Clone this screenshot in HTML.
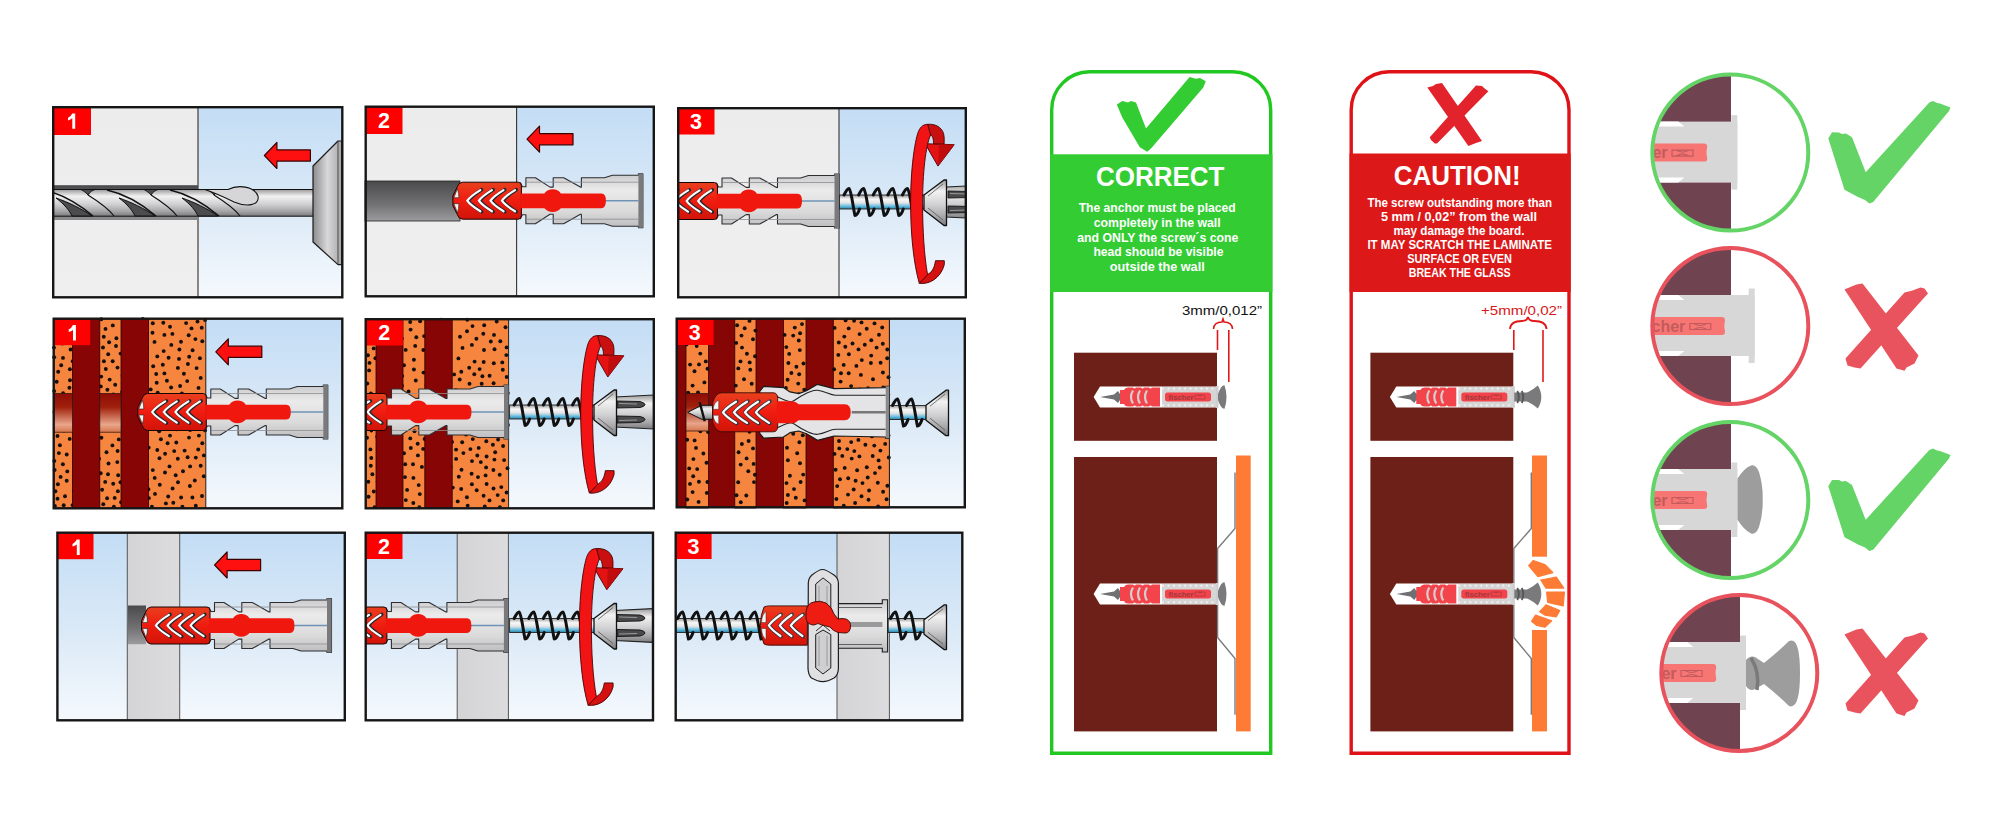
<!DOCTYPE html>
<html><head><meta charset="utf-8"><style>
html,body{margin:0;padding:0;background:#fff;width:2000px;height:826px;overflow:hidden}
svg{display:block}
</style></head><body>
<svg width="2000" height="826" viewBox="0 0 2000 826">
<rect width="2000" height="826" fill="#fff"/>

<defs>
 <linearGradient id="sky" x1="0" y1="0" x2="0" y2="1">
  <stop offset="0" stop-color="#c3ddf5"/>
  <stop offset="0.55" stop-color="#dceaf7"/>
  <stop offset="1" stop-color="#f5f9fd"/>
 </linearGradient>
 <linearGradient id="wall" x1="0" y1="0" x2="0" y2="1">
  <stop offset="0" stop-color="#ececed"/>
  <stop offset="1" stop-color="#efeff0"/>
 </linearGradient>
 <linearGradient id="board" x1="0" y1="0" x2="1" y2="0">
  <stop offset="0" stop-color="#d4d4d6"/>
  <stop offset="1" stop-color="#dcdcde"/>
 </linearGradient>
 <linearGradient id="holeg" x1="0" y1="0" x2="0" y2="1">
  <stop offset="0" stop-color="#4a4a4c"/>
  <stop offset="0.6" stop-color="#737375"/>
  <stop offset="1" stop-color="#9c9c9e"/>
 </linearGradient>
 <linearGradient id="holeb" x1="0" y1="0" x2="0" y2="1">
  <stop offset="0" stop-color="#8e0c06"/>
  <stop offset="0.35" stop-color="#a0200c"/>
  <stop offset="0.8" stop-color="#e8a58a"/>
  <stop offset="1" stop-color="#d8774e"/>
 </linearGradient>
 <linearGradient id="metal" x1="0" y1="0" x2="0" y2="1">
  <stop offset="0" stop-color="#9a9a9c"/>
  <stop offset="0.25" stop-color="#f2f2f2"/>
  <stop offset="0.55" stop-color="#d0d0d2"/>
  <stop offset="0.8" stop-color="#a8a8aa"/>
  <stop offset="1" stop-color="#7c7c7e"/>
 </linearGradient>
 <linearGradient id="shank" x1="0" y1="0" x2="0" y2="1">
  <stop offset="0" stop-color="#9c9c9e"/>
  <stop offset="0.3" stop-color="#f8f8f8"/>
  <stop offset="0.55" stop-color="#e6e6e6"/>
  <stop offset="0.7" stop-color="#9ccfe6"/>
  <stop offset="0.85" stop-color="#4fb0d8"/>
  <stop offset="1" stop-color="#3a7a98"/>
 </linearGradient>
 <linearGradient id="chuck" x1="0" y1="0" x2="1" y2="0">
  <stop offset="0" stop-color="#8c8c8e"/>
  <stop offset="0.5" stop-color="#d8d8da"/>
  <stop offset="1" stop-color="#a4a4a6"/>
 </linearGradient>
 <linearGradient id="redg" x1="0" y1="0" x2="0" y2="1">
  <stop offset="0" stop-color="#e8401e"/>
  <stop offset="0.5" stop-color="#f01c10"/>
  <stop offset="1" stop-color="#d01408"/>
 </linearGradient>
 <linearGradient id="grayb" x1="0" y1="0" x2="0" y2="1">
  <stop offset="0" stop-color="#c8c8ca"/>
  <stop offset="0.3" stop-color="#ebebec"/>
  <stop offset="0.7" stop-color="#dadadb"/>
  <stop offset="1" stop-color="#bcbcbe"/>
 </linearGradient>


 <g id="anc">
  <path d="M68,-18 L70,-14 L73.5,-14 L73.5,-23 L83,-23 L97.6,-13.6 L100.8,-13.6 L100.8,-23 L111.3,-23 L128,-13.6 L129,-13.6 L129,-23 L152,-23 L160,-25.5 L186,-25.5 L186,-27 L190.5,-27 L190.5,27 L186,27 L186,25.5 L160,25.5 L152,23 L129,23 L129,13.6 L128,13.6 L111.3,23 L100.8,23 L100.8,13.6 L97.6,13.6 L83,23 L73.5,23 L73.5,14 L70,14 L68,18 Z" fill="url(#grayb)" stroke="#2e2e30" stroke-width="1.1" stroke-linejoin="round"/>
  <path d="M74,-18.5 L186,-18.5 M74,18.5 L186,18.5" stroke="#8d8d90" stroke-width="0.8" fill="none"/>
  <rect x="186" y="-27" width="4.5" height="54" fill="#7a7a7d"/>
  <path d="M150,0 L186,0" stroke="#6f93b5" stroke-width="1.6"/>
  <path d="M10,-18.5 Q6,-18 5,-14 L0.5,-5 L0.5,5 L5,14 Q6,18 10,18.5 L66,18.5 Q69,18.2 69,15 L69,-15 Q69,-18.2 66,-18.5 Z" fill="url(#redg)" stroke="#1a0505" stroke-width="1"/>
  <path d="M1.5,-3 L5,-12 Q6.5,-8 6.5,-3 Z M1.5,3 L5,12 Q6.5,8 6.5,3 Z" fill="#f4f4f4" stroke="#222" stroke-width="0.6"/>
  <path d="M68,-7.3 L92,-7.3 Q95,-11.5 100.3,-11.5 Q105.5,-11.5 108.5,-7.3 L149,-7.3 Q153.5,-7.3 153.5,0 Q153.5,7.6 149,7.6 L108.5,7.6 Q105.5,11.3 100.3,11.3 Q95,11.3 92,7.6 L68,7.6 Z" fill="#f0180e"/>
  <path d="M29.1,-11 Q18.9,-4.5 15.9,0 Q18.9,4.5 29.1,11" fill="none" stroke="#1e2a30" stroke-width="3.6" stroke-linecap="round"/>
  <path d="M27.9,-10.6 Q17.7,-4.3 14.9,0 Q17.7,4.3 27.9,10.6" fill="none" stroke="#ffffff" stroke-width="2.2" stroke-linecap="round"/>
  <path d="M40.7,-11 Q30.5,-4.5 27.5,0 Q30.5,4.5 40.7,11" fill="none" stroke="#1e2a30" stroke-width="3.6" stroke-linecap="round"/>
  <path d="M39.5,-10.6 Q29.3,-4.3 26.5,0 Q29.3,4.3 39.5,10.6" fill="none" stroke="#ffffff" stroke-width="2.2" stroke-linecap="round"/>
  <path d="M52.3,-11 Q42.099999999999994,-4.5 39.099999999999994,0 Q42.099999999999994,4.5 52.3,11" fill="none" stroke="#1e2a30" stroke-width="3.6" stroke-linecap="round"/>
  <path d="M51.099999999999994,-10.6 Q40.9,-4.3 38.099999999999994,0 Q40.9,4.3 51.099999999999994,10.6" fill="none" stroke="#ffffff" stroke-width="2.2" stroke-linecap="round"/>
  <path d="M63.8,-11 Q53.599999999999994,-4.5 50.599999999999994,0 Q53.599999999999994,4.5 63.8,11" fill="none" stroke="#1e2a30" stroke-width="3.6" stroke-linecap="round"/>
  <path d="M62.599999999999994,-10.6 Q52.4,-4.3 49.599999999999994,0 Q52.4,4.3 62.599999999999994,10.6" fill="none" stroke="#ffffff" stroke-width="2.2" stroke-linecap="round"/>
 </g>

 <g id="screw5">
 <rect x="0" y="-7" width="92" height="14" fill="url(#shank)" stroke="#222" stroke-width="0.9"/>
<path d="M4.5,-7 C7.0,-12 8.0,-13.5 9.5,-13.5 C12.0,-11.5 14.0,8.5 15.5,13.5 C17.0,13.5 19.0,10 20.0,7" fill="none" stroke="#111" stroke-width="3" stroke-linejoin="round" stroke-linecap="round"/><path d="M19.1,-7 C21.6,-12 22.6,-13.5 24.1,-13.5 C26.6,-11.5 28.6,8.5 30.1,13.5 C31.6,13.5 33.6,10 34.6,7" fill="none" stroke="#111" stroke-width="3" stroke-linejoin="round" stroke-linecap="round"/><path d="M33.7,-7 C36.2,-12 37.2,-13.5 38.7,-13.5 C41.2,-11.5 43.2,8.5 44.7,13.5 C46.2,13.5 48.2,10 49.2,7" fill="none" stroke="#111" stroke-width="3" stroke-linejoin="round" stroke-linecap="round"/><path d="M48.3,-7 C50.8,-12 51.8,-13.5 53.3,-13.5 C55.8,-11.5 57.8,8.5 59.3,13.5 C60.8,13.5 62.8,10 63.8,7" fill="none" stroke="#111" stroke-width="3" stroke-linejoin="round" stroke-linecap="round"/><path d="M62.900000000000006,-7 C65.4,-12 66.4,-13.5 67.9,-13.5 C70.4,-11.5 72.4,8.5 73.9,13.5 C75.4,13.5 77.4,10 78.4,7" fill="none" stroke="#111" stroke-width="3" stroke-linejoin="round" stroke-linecap="round"/>
 </g>
 <g id="head">
  <path d="M0,-7 L20,-22 L22.5,-22 L22.5,23.5 L20,23.5 L0,8 Z" fill="url(#metal)" stroke="#111" stroke-width="1.3" stroke-linejoin="round"/>
  <path d="M4,-6 L19,-18 M4,6 L19,18" stroke="#555" stroke-width="0.8"/>
 </g>
 <g id="bit">
  <path d="M0,-15 L40,-17 L40,17 L0,15 Z" fill="url(#metal)" stroke="#222" stroke-width="1.1"/>
  <path d="M2,-11 L25,-10.5 Q30,-9 30,-7.5 Q30,-5.5 25,-4.5 L2,-4 Z M2,11 L25,10.5 Q30,9 30,7.5 Q30,5.5 25,4.5 L2,4 Z" fill="#4a4a4c" stroke="#111" stroke-width="0.9"/>
  <path d="M4,-8.5 L22,-8 M4,8.5 L22,8" stroke="#9a9a9c" stroke-width="1"/>
 </g>
 <g id="rot">
  <path d="M17,0.6 C24,0 31,3 33,10 C34,14 33.5,18 33.5,20.5 L23,20.5 C23,15 22,11.5 19.5,11.2 Z" fill="#c81010" stroke="#4a0000" stroke-width="0.9"/>
  <path d="M14.5,20 L43.6,21 L27.4,42.4 Z" fill="#e41212" stroke="#4a0000" stroke-width="0.9" stroke-linejoin="round"/>
  <path d="M28.5,20.6 L43.6,21 L27.4,42.4 Z" fill="#c00c0c"/>
  <path d="M8.7,159.6 C18,161 30,155 33.7,141 L33.7,137 L24.9,137 C24,143 22,149 16,151 Z" fill="#d41010" stroke="#4a0000" stroke-width="0.9"/>
  <path d="M8.7,159.6 C3,140 0,110 0,80 C0,50 3,24 7,10 C9,4 12,0.6 17,0.6 L20,11.2 C15,22 12,50 12,80 C12,105 13.5,132 17,151 Z" fill="#f21414" stroke="#4a0000" stroke-width="0.9"/>
 </g>
 <g id="larr">
  <path d="M0,0 L12.5,-13 L12.5,-5.6 L46,-5.6 L46,5.6 L12.5,5.6 L12.5,13 Z" fill="#ff1010" stroke="#3a0000" stroke-width="1.2" stroke-linejoin="round"/>
 </g>
</defs>
<g>
<rect x="53" y="107" width="145" height="190" fill="url(#wall)"/>
<rect x="198" y="107" width="144" height="190" fill="url(#sky)"/>
<line x1="198" y1="107" x2="198" y2="297" stroke="#3a2a20" stroke-width="1.1"/>
<rect x="53" y="185.2" width="145" height="34.8" fill="url(#holeg)"/>
<rect x="53" y="216" width="145" height="4" fill="#8a8a8c"/>
<clipPath id="c11"><rect x="53" y="107" width="290" height="190"/></clipPath>
<g clip-path="url(#c11)">
<path d="M40,189.5 L314,189.5 L314,216.2 L40,216.2 Z" fill="url(#metal)" stroke="#111" stroke-width="1"/>
<path d="M-7,198 C1,204 7,211 9,216 L29,216 C19,209 5,202 -7,198 Z" fill="#4c4c4e" stroke="#111" stroke-width="1"/>
<path d="M-19,190 C-1,194 17,205 30,216" fill="none" stroke="#111" stroke-width="1.3"/>
<path d="M18,189.5 C21,191 23,193 25,195 C27,192 29,190.5 32,189.5 Z" fill="#4c4c4e" stroke="#111" stroke-width="0.9"/>
<path d="M25,195 C33,200 45,208 51,216" fill="none" stroke="#111" stroke-width="1.2"/>
<path d="M56,198 C64,204 70,211 72,216 L92,216 C82,209 68,202 56,198 Z" fill="#4c4c4e" stroke="#111" stroke-width="1"/>
<path d="M44,190 C62,194 80,205 93,216" fill="none" stroke="#111" stroke-width="1.3"/>
<path d="M81,189.5 C84,191 86,193 88,195 C90,192 92,190.5 95,189.5 Z" fill="#4c4c4e" stroke="#111" stroke-width="0.9"/>
<path d="M88,195 C96,200 108,208 114,216" fill="none" stroke="#111" stroke-width="1.2"/>
<path d="M119,198 C127,204 133,211 135,216 L155,216 C145,209 131,202 119,198 Z" fill="#4c4c4e" stroke="#111" stroke-width="1"/>
<path d="M107,190 C125,194 143,205 156,216" fill="none" stroke="#111" stroke-width="1.3"/>
<path d="M144,189.5 C147,191 149,193 151,195 C153,192 155,190.5 158,189.5 Z" fill="#4c4c4e" stroke="#111" stroke-width="0.9"/>
<path d="M151,195 C159,200 171,208 177,216" fill="none" stroke="#111" stroke-width="1.2"/>
<path d="M182,198 C190,204 196,211 198,216 L218,216 C208,209 194,202 182,198 Z" fill="#4c4c4e" stroke="#111" stroke-width="1"/>
<path d="M170,190 C188,194 206,205 219,216" fill="none" stroke="#111" stroke-width="1.3"/>
<path d="M207,189.5 C210,191 212,193 214,195 C216,192 218,190.5 221,189.5 Z" fill="#4c4c4e" stroke="#111" stroke-width="0.9"/>
<path d="M214,195 C222,200 234,208 240,216" fill="none" stroke="#111" stroke-width="1.2"/>
</g>
<path d="M228,189.5 C238,184.5 254,186 258,196 C260,206 246,207 234,202 C226,198 218,194 205,189.5 Z" fill="#d6d6d8" stroke="#111" stroke-width="1.1"/>
<path d="M313,166 L338,141 L342,141 L342,264.6 L338,264.6 L313,242 Z" fill="url(#chuck)" stroke="#1a1a1a" stroke-width="1.2" stroke-linejoin="round"/>
<line x1="338" y1="141" x2="338" y2="264.6" stroke="#333" stroke-width="0.8"/>
<use href="#larr" x="264.4" y="155.5"/>
<rect x="53" y="107" width="38" height="28" fill="#ff0000"/>
<path d="M72.3,113.4 L75.2,113.4 L75.2,128.8 L72.3,128.8 L72.3,118.2 Q70.5,119.8 68,120.4 L68,117.7 Q71,116.3 72.3,113.4 Z" fill="#fff"/>
<rect x="53.2" y="107.2" width="289.1" height="190.1" fill="none" stroke="#161616" stroke-width="2.4"/>
</g>
<rect x="365" y="106.5" width="151.6" height="190" fill="url(#wall)"/>
<rect x="516.6" y="106.5" width="137" height="190" fill="url(#sky)"/>
<line x1="516.6" y1="106.5" x2="516.6" y2="296.5" stroke="#333" stroke-width="1.1"/>
<rect x="365" y="181" width="95" height="40" fill="url(#holeg)" stroke="#222" stroke-width="0.8"/>
<use href="#anc" transform="translate(452.4,200.7)"/>
<use href="#larr" x="527" y="139.2"/>
<rect x="365.5" y="107" width="37" height="27" fill="#ff0000"/>
<text x="384.0" y="128.4" text-anchor="middle" font-family='"Liberation Sans", sans-serif' font-weight="bold" font-size="21.5" fill="#fff">2</text>
<rect x="365.7" y="106.7" width="288.1" height="189.6" fill="none" stroke="#161616" stroke-width="2.4"/>
<clipPath id="c13"><rect x="678" y="108" width="288" height="189"/></clipPath>
<rect x="678" y="108" width="161" height="189" fill="url(#wall)"/>
<rect x="839" y="108" width="127" height="189" fill="url(#sky)"/>
<line x1="839" y1="108" x2="839" y2="297" stroke="#333" stroke-width="1.1"/>
<g clip-path="url(#c13)">
<use href="#anc" transform="translate(648.5,201)"/>
<use href="#screw5" transform="translate(839.5,202)"/>
<use href="#bit" transform="translate(946,202)"/>
<use href="#head" transform="translate(924,202)"/>
</g>
<use href="#rot" transform="translate(910.6,123.7)"/>
<rect x="677.5" y="108.5" width="37" height="26" fill="#ff0000"/>
<text x="696.0" y="129.4" text-anchor="middle" font-family='"Liberation Sans", sans-serif' font-weight="bold" font-size="21.5" fill="#fff">3</text>
<rect x="678.2" y="108.2" width="287.6" height="189.1" fill="none" stroke="#161616" stroke-width="2.4"/>
<rect x="53.5" y="318.5" width="289" height="190" fill="url(#sky)"/>
<rect x="53.5" y="318.5" width="152.3" height="190" fill="#f6853f"/>
<g fill="#151010"><circle cx="103.0" cy="347.5" r="1.95"/><circle cx="152.5" cy="332.7" r="1.95"/><circle cx="135.1" cy="388.1" r="1.95"/><circle cx="62.8" cy="414.9" r="1.95"/><circle cx="59.7" cy="401.0" r="1.95"/><circle cx="64.6" cy="336.1" r="1.95"/><circle cx="118.2" cy="475.3" r="1.95"/><circle cx="72.7" cy="361.2" r="1.95"/><circle cx="148.9" cy="498.1" r="1.95"/><circle cx="141.3" cy="394.0" r="1.95"/><circle cx="201.7" cy="327.8" r="1.95"/><circle cx="183.9" cy="373.7" r="1.95"/><circle cx="75.8" cy="341.3" r="1.95"/><circle cx="100.7" cy="473.2" r="1.95"/><circle cx="81.3" cy="428.9" r="1.95"/><circle cx="150.7" cy="389.4" r="1.95"/><circle cx="136.9" cy="330.9" r="1.95"/><circle cx="63.0" cy="357.9" r="1.95"/><circle cx="156.9" cy="399.8" r="1.95"/><circle cx="101.5" cy="429.7" r="1.95"/><circle cx="122.6" cy="375.7" r="1.95"/><circle cx="174.2" cy="451.1" r="1.95"/><circle cx="90.9" cy="427.6" r="1.95"/><circle cx="133.5" cy="484.4" r="1.95"/><circle cx="164.4" cy="373.4" r="1.95"/><circle cx="202.3" cy="341.3" r="1.95"/><circle cx="117.3" cy="462.1" r="1.95"/><circle cx="77.0" cy="411.4" r="1.95"/><circle cx="59.9" cy="445.3" r="1.95"/><circle cx="169.7" cy="427.3" r="1.95"/><circle cx="159.2" cy="431.3" r="1.95"/><circle cx="141.7" cy="405.2" r="1.95"/><circle cx="181.1" cy="497.5" r="1.95"/><circle cx="125.7" cy="444.5" r="1.95"/><circle cx="151.9" cy="506.7" r="1.95"/><circle cx="112.4" cy="445.4" r="1.95"/><circle cx="62.9" cy="464.2" r="1.95"/><circle cx="113.2" cy="483.7" r="1.95"/><circle cx="178.0" cy="482.3" r="1.95"/><circle cx="96.1" cy="397.5" r="1.95"/><circle cx="80.7" cy="362.8" r="1.95"/><circle cx="89.3" cy="410.7" r="1.95"/><circle cx="143.1" cy="368.7" r="1.95"/><circle cx="109.9" cy="426.0" r="1.95"/><circle cx="198.2" cy="449.5" r="1.95"/><circle cx="132.0" cy="435.7" r="1.95"/><circle cx="190.1" cy="466.4" r="1.95"/><circle cx="113.4" cy="394.4" r="1.95"/><circle cx="69.7" cy="438.9" r="1.95"/><circle cx="85.6" cy="349.7" r="1.95"/><circle cx="105.5" cy="328.9" r="1.95"/><circle cx="54.0" cy="347.6" r="1.95"/><circle cx="69.4" cy="387.7" r="1.95"/><circle cx="57.9" cy="484.2" r="1.95"/><circle cx="146.9" cy="347.1" r="1.95"/><circle cx="92.2" cy="384.7" r="1.95"/><circle cx="109.1" cy="342.2" r="1.95"/><circle cx="182.4" cy="506.7" r="1.95"/><circle cx="124.5" cy="410.4" r="1.95"/><circle cx="105.8" cy="369.0" r="1.95"/><circle cx="179.4" cy="349.5" r="1.95"/><circle cx="57.5" cy="498.7" r="1.95"/><circle cx="133.9" cy="346.7" r="1.95"/><circle cx="133.9" cy="503.9" r="1.95"/><circle cx="184.6" cy="450.6" r="1.95"/><circle cx="79.3" cy="464.9" r="1.95"/><circle cx="134.6" cy="466.2" r="1.95"/><circle cx="103.9" cy="361.2" r="1.95"/><circle cx="183.0" cy="471.3" r="1.95"/><circle cx="177.8" cy="458.8" r="1.95"/><circle cx="58.2" cy="371.8" r="1.95"/><circle cx="93.2" cy="449.9" r="1.95"/><circle cx="198.7" cy="403.5" r="1.95"/><circle cx="195.8" cy="505.7" r="1.95"/><circle cx="198.5" cy="387.9" r="1.95"/><circle cx="148.4" cy="489.2" r="1.95"/><circle cx="181.2" cy="409.6" r="1.95"/><circle cx="152.8" cy="470.1" r="1.95"/><circle cx="167.5" cy="409.3" r="1.95"/><circle cx="114.7" cy="497.9" r="1.95"/><circle cx="163.7" cy="351.1" r="1.95"/><circle cx="76.1" cy="475.2" r="1.95"/><circle cx="202.3" cy="443.2" r="1.95"/><circle cx="73.8" cy="321.7" r="1.95"/><circle cx="133.7" cy="495.5" r="1.95"/><circle cx="179.0" cy="358.9" r="1.95"/><circle cx="92.1" cy="374.4" r="1.95"/><circle cx="73.8" cy="491.0" r="1.95"/><circle cx="107.5" cy="405.6" r="1.95"/><circle cx="129.9" cy="419.5" r="1.95"/><circle cx="133.2" cy="322.5" r="1.95"/><circle cx="120.6" cy="353.6" r="1.95"/><circle cx="54.6" cy="470.0" r="1.95"/><circle cx="103.3" cy="417.0" r="1.95"/><circle cx="70.1" cy="424.9" r="1.95"/><circle cx="146.7" cy="414.5" r="1.95"/><circle cx="131.5" cy="449.9" r="1.95"/><circle cx="122.4" cy="419.8" r="1.95"/><circle cx="126.3" cy="496.9" r="1.95"/><circle cx="159.8" cy="484.7" r="1.95"/><circle cx="196.6" cy="368.1" r="1.95"/><circle cx="72.4" cy="402.6" r="1.95"/><circle cx="172.6" cy="488.5" r="1.95"/><circle cx="77.4" cy="454.3" r="1.95"/><circle cx="87.2" cy="499.0" r="1.95"/><circle cx="114.3" cy="411.1" r="1.95"/><circle cx="203.8" cy="476.3" r="1.95"/><circle cx="83.6" cy="379.2" r="1.95"/><circle cx="163.3" cy="322.7" r="1.95"/><circle cx="56.7" cy="381.7" r="1.95"/><circle cx="63.7" cy="505.2" r="1.95"/><circle cx="173.3" cy="502.7" r="1.95"/><circle cx="69.9" cy="369.2" r="1.95"/><circle cx="94.9" cy="343.5" r="1.95"/><circle cx="117.9" cy="491.3" r="1.95"/><circle cx="177.9" cy="367.9" r="1.95"/><circle cx="140.3" cy="451.4" r="1.95"/><circle cx="65.0" cy="496.3" r="1.95"/><circle cx="66.7" cy="480.8" r="1.95"/><circle cx="122.7" cy="383.1" r="1.95"/><circle cx="133.7" cy="364.1" r="1.95"/><circle cx="70.6" cy="349.5" r="1.95"/><circle cx="101.2" cy="376.6" r="1.95"/><circle cx="129.7" cy="352.6" r="1.95"/><circle cx="91.9" cy="321.9" r="1.95"/><circle cx="195.4" cy="339.1" r="1.95"/><circle cx="177.9" cy="400.7" r="1.95"/><circle cx="128.9" cy="476.7" r="1.95"/><circle cx="160.9" cy="439.2" r="1.95"/><circle cx="115.2" cy="384.7" r="1.95"/><circle cx="62.2" cy="343.5" r="1.95"/><circle cx="96.7" cy="364.8" r="1.95"/><circle cx="98.3" cy="405.8" r="1.95"/><circle cx="201.2" cy="422.4" r="1.95"/><circle cx="100.8" cy="386.4" r="1.95"/><circle cx="54.2" cy="391.1" r="1.95"/><circle cx="60.3" cy="323.3" r="1.95"/><circle cx="167.6" cy="443.3" r="1.95"/><circle cx="60.6" cy="476.9" r="1.95"/><circle cx="189.0" cy="437.6" r="1.95"/><circle cx="165.0" cy="472.5" r="1.95"/><circle cx="175.7" cy="475.2" r="1.95"/><circle cx="157.3" cy="450.0" r="1.95"/><circle cx="148.7" cy="447.6" r="1.95"/><circle cx="165.9" cy="503.4" r="1.95"/><circle cx="170.0" cy="435.6" r="1.95"/><circle cx="156.2" cy="374.0" r="1.95"/><circle cx="132.2" cy="406.8" r="1.95"/><circle cx="124.6" cy="341.4" r="1.95"/><circle cx="189.2" cy="356.7" r="1.95"/><circle cx="202.0" cy="496.0" r="1.95"/><circle cx="89.0" cy="488.7" r="1.95"/><circle cx="54.5" cy="411.9" r="1.95"/><circle cx="54.3" cy="460.9" r="1.95"/><circle cx="181.0" cy="341.7" r="1.95"/><circle cx="205.1" cy="430.4" r="1.95"/><circle cx="95.6" cy="328.1" r="1.95"/><circle cx="97.2" cy="495.8" r="1.95"/><circle cx="99.1" cy="458.7" r="1.95"/><circle cx="83.1" cy="336.1" r="1.95"/><circle cx="167.4" cy="397.0" r="1.95"/><circle cx="114.5" cy="403.3" r="1.95"/><circle cx="186.1" cy="323.1" r="1.95"/><circle cx="58.9" cy="453.1" r="1.95"/><circle cx="189.5" cy="408.4" r="1.95"/><circle cx="142.8" cy="319.0" r="1.95"/><circle cx="71.0" cy="332.3" r="1.95"/><circle cx="112.7" cy="361.3" r="1.95"/><circle cx="117.5" cy="367.6" r="1.95"/><circle cx="155.0" cy="493.9" r="1.95"/><circle cx="105.1" cy="398.5" r="1.95"/><circle cx="157.3" cy="356.4" r="1.95"/><circle cx="200.7" cy="377.9" r="1.95"/><circle cx="87.5" cy="462.7" r="1.95"/><circle cx="87.8" cy="397.8" r="1.95"/><circle cx="76.1" cy="393.4" r="1.95"/><circle cx="63.1" cy="393.3" r="1.95"/><circle cx="189.9" cy="486.0" r="1.95"/><circle cx="199.9" cy="358.2" r="1.95"/><circle cx="108.0" cy="474.3" r="1.95"/><circle cx="83.2" cy="387.8" r="1.95"/><circle cx="170.0" cy="326.7" r="1.95"/><circle cx="59.3" cy="330.8" r="1.95"/><circle cx="198.9" cy="435.6" r="1.95"/><circle cx="145.9" cy="381.0" r="1.95"/><circle cx="172.4" cy="333.9" r="1.95"/><circle cx="59.1" cy="423.4" r="1.95"/><circle cx="103.3" cy="504.3" r="1.95"/><circle cx="154.5" cy="341.9" r="1.95"/><circle cx="113.9" cy="506.6" r="1.95"/><circle cx="176.3" cy="442.5" r="1.95"/><circle cx="144.2" cy="436.2" r="1.95"/><circle cx="127.0" cy="329.1" r="1.95"/><circle cx="144.7" cy="423.0" r="1.95"/><circle cx="117.6" cy="429.1" r="1.95"/><circle cx="121.6" cy="401.8" r="1.95"/><circle cx="57.5" cy="436.0" r="1.95"/><circle cx="169.5" cy="466.4" r="1.95"/><circle cx="192.6" cy="350.2" r="1.95"/><circle cx="85.5" cy="368.7" r="1.95"/><circle cx="130.6" cy="379.3" r="1.95"/><circle cx="186.1" cy="423.9" r="1.95"/><circle cx="141.8" cy="485.8" r="1.95"/><circle cx="108.5" cy="463.5" r="1.95"/><circle cx="101.3" cy="319.3" r="1.95"/><circle cx="152.8" cy="323.2" r="1.95"/><circle cx="143.1" cy="357.6" r="1.95"/><circle cx="195.8" cy="457.6" r="1.95"/><circle cx="173.3" cy="417.9" r="1.95"/><circle cx="94.1" cy="440.3" r="1.95"/><circle cx="166.9" cy="380.8" r="1.95"/><circle cx="187.2" cy="381.1" r="1.95"/><circle cx="86.1" cy="436.7" r="1.95"/><circle cx="159.5" cy="458.3" r="1.95"/><circle cx="64.0" cy="430.6" r="1.95"/><circle cx="192.4" cy="497.5" r="1.95"/><circle cx="168.6" cy="357.7" r="1.95"/><circle cx="109.7" cy="379.6" r="1.95"/><circle cx="199.9" cy="414.2" r="1.95"/><circle cx="106.5" cy="452.2" r="1.95"/><circle cx="54.2" cy="357.2" r="1.95"/><circle cx="159.8" cy="413.2" r="1.95"/><circle cx="188.7" cy="335.3" r="1.95"/><circle cx="79.7" cy="401.9" r="1.95"/><circle cx="187.9" cy="364.0" r="1.95"/><circle cx="112.8" cy="325.4" r="1.95"/><circle cx="149.7" cy="406.6" r="1.95"/><circle cx="75.5" cy="433.1" r="1.95"/><circle cx="191.4" cy="400.3" r="1.95"/><circle cx="140.8" cy="460.6" r="1.95"/><circle cx="101.4" cy="437.7" r="1.95"/><circle cx="81.7" cy="442.7" r="1.95"/><circle cx="72.5" cy="505.1" r="1.95"/><circle cx="117.6" cy="451.0" r="1.95"/><circle cx="87.1" cy="470.5" r="1.95"/><circle cx="180.1" cy="386.0" r="1.95"/><circle cx="118.8" cy="439.4" r="1.95"/><circle cx="153.2" cy="366.3" r="1.95"/><circle cx="146.0" cy="466.7" r="1.95"/><circle cx="83.9" cy="449.9" r="1.95"/><circle cx="154.7" cy="477.9" r="1.95"/><circle cx="105.2" cy="481.9" r="1.95"/><circle cx="81.4" cy="326.0" r="1.95"/><circle cx="116.4" cy="338.3" r="1.95"/><circle cx="162.8" cy="364.8" r="1.95"/><circle cx="164.4" cy="334.9" r="1.95"/><circle cx="149.3" cy="398.0" r="1.95"/><circle cx="67.3" cy="471.4" r="1.95"/><circle cx="126.1" cy="430.4" r="1.95"/><circle cx="168.2" cy="496.5" r="1.95"/><circle cx="70.0" cy="380.2" r="1.95"/><circle cx="162.0" cy="423.6" r="1.95"/><circle cx="75.9" cy="483.6" r="1.95"/><circle cx="77.6" cy="370.2" r="1.95"/><circle cx="102.1" cy="489.7" r="1.95"/><circle cx="93.0" cy="357.1" r="1.95"/><circle cx="176.8" cy="429.2" r="1.95"/><circle cx="181.1" cy="418.3" r="1.95"/><circle cx="200.7" cy="465.8" r="1.95"/><circle cx="138.2" cy="411.9" r="1.95"/><circle cx="147.2" cy="479.6" r="1.95"/><circle cx="157.7" cy="392.6" r="1.95"/><circle cx="107.1" cy="498.2" r="1.95"/><circle cx="122.1" cy="391.9" r="1.95"/><circle cx="194.8" cy="480.5" r="1.95"/><circle cx="127.3" cy="468.8" r="1.95"/><circle cx="108.2" cy="354.3" r="1.95"/><circle cx="139.0" cy="340.7" r="1.95"/><circle cx="190.1" cy="430.0" r="1.95"/><circle cx="94.9" cy="464.9" r="1.95"/><circle cx="165.1" cy="453.7" r="1.95"/><circle cx="61.2" cy="365.2" r="1.95"/><circle cx="96.5" cy="336.0" r="1.95"/><circle cx="66.7" cy="454.5" r="1.95"/><circle cx="121.1" cy="502.3" r="1.95"/><circle cx="131.9" cy="398.6" r="1.95"/><circle cx="71.1" cy="416.0" r="1.95"/><circle cx="120.5" cy="482.2" r="1.95"/><circle cx="203.9" cy="455.4" r="1.95"/><circle cx="171.3" cy="344.9" r="1.95"/><circle cx="197.5" cy="321.6" r="1.95"/><circle cx="181.9" cy="393.4" r="1.95"/><circle cx="143.1" cy="327.3" r="1.95"/><circle cx="140.0" cy="376.2" r="1.95"/><circle cx="141.8" cy="505.6" r="1.95"/><circle cx="82.5" cy="420.5" r="1.95"/><circle cx="156.7" cy="382.8" r="1.95"/><circle cx="124.1" cy="321.6" r="1.95"/><circle cx="146.9" cy="455.9" r="1.95"/><circle cx="103.8" cy="336.7" r="1.95"/><circle cx="138.0" cy="443.2" r="1.95"/><circle cx="171.1" cy="387.5" r="1.95"/><circle cx="55.4" cy="491.3" r="1.95"/><circle cx="187.6" cy="457.2" r="1.95"/><circle cx="116.0" cy="346.0" r="1.95"/><circle cx="205.1" cy="320.0" r="1.95"/><circle cx="191.5" cy="328.4" r="1.95"/><circle cx="125.6" cy="455.4" r="1.95"/><circle cx="194.3" cy="418.9" r="1.95"/><circle cx="125.7" cy="487.3" r="1.95"/><circle cx="54.9" cy="505.9" r="1.95"/><circle cx="107.4" cy="389.8" r="1.95"/><circle cx="79.7" cy="497.0" r="1.95"/></g>
<rect x="72.4" y="318.5" width="27.39999999999999" height="190" fill="#880505" stroke="#2a0000" stroke-width="0.8"/>
<rect x="121" y="318.5" width="27.5" height="190" fill="#880505" stroke="#2a0000" stroke-width="0.8"/>
<rect x="53.5" y="393.5" width="18.900000000000006" height="38.7" fill="url(#holeb)" stroke="#3a1a10" stroke-width="0.8"/>
<rect x="99.8" y="393.5" width="21.200000000000003" height="38.7" fill="url(#holeb)" stroke="#3a1a10" stroke-width="0.8"/>
<line x1="205.8" y1="318.5" x2="205.8" y2="508.5" stroke="#222" stroke-width="1"/>
<use href="#anc" transform="translate(137.3,412)"/>
<use href="#larr" x="215.8" y="351.8"/>
<rect x="53.7" y="318.7" width="36.5" height="26.5" fill="#ff0000"/>
<path d="M73.0,325.09999999999997 L75.9,325.09999999999997 L75.9,340.5 L73.0,340.5 L73.0,329.9 Q71.2,331.5 68.7,332.09999999999997 L68.7,329.4 Q71.7,328.0 73.0,325.09999999999997 Z" fill="#fff"/>
<rect x="53.7" y="318.7" width="288.6" height="189.6" fill="none" stroke="#161616" stroke-width="2.4"/>
<clipPath id="c22"><rect x="366" y="319" width="288" height="189"/></clipPath>
<rect x="366" y="319" width="288" height="189" fill="url(#sky)"/>
<rect x="366" y="319" width="142.4" height="189" fill="#f6853f"/>
<g fill="#151010"><circle cx="413.4" cy="477.9" r="1.95"/><circle cx="490.0" cy="409.8" r="1.95"/><circle cx="387.6" cy="337.2" r="1.95"/><circle cx="490.8" cy="341.5" r="1.95"/><circle cx="436.7" cy="420.3" r="1.95"/><circle cx="383.1" cy="407.4" r="1.95"/><circle cx="389.7" cy="420.2" r="1.95"/><circle cx="438.2" cy="388.5" r="1.95"/><circle cx="394.5" cy="395.4" r="1.95"/><circle cx="395.3" cy="343.4" r="1.95"/><circle cx="400.4" cy="483.3" r="1.95"/><circle cx="437.5" cy="486.9" r="1.95"/><circle cx="368.6" cy="496.8" r="1.95"/><circle cx="435.6" cy="468.2" r="1.95"/><circle cx="447.2" cy="449.0" r="1.95"/><circle cx="398.9" cy="460.5" r="1.95"/><circle cx="388.2" cy="369.2" r="1.95"/><circle cx="370.9" cy="393.4" r="1.95"/><circle cx="439.8" cy="374.4" r="1.95"/><circle cx="448.3" cy="363.5" r="1.95"/><circle cx="450.7" cy="466.9" r="1.95"/><circle cx="467.0" cy="331.2" r="1.95"/><circle cx="401.2" cy="432.1" r="1.95"/><circle cx="505.5" cy="327.2" r="1.95"/><circle cx="481.7" cy="383.8" r="1.95"/><circle cx="481.1" cy="406.3" r="1.95"/><circle cx="496.7" cy="321.5" r="1.95"/><circle cx="499.5" cy="397.0" r="1.95"/><circle cx="424.1" cy="336.1" r="1.95"/><circle cx="462.5" cy="347.9" r="1.95"/><circle cx="415.2" cy="345.9" r="1.95"/><circle cx="394.5" cy="360.8" r="1.95"/><circle cx="413.3" cy="503.0" r="1.95"/><circle cx="507.5" cy="468.3" r="1.95"/><circle cx="434.3" cy="413.0" r="1.95"/><circle cx="476.7" cy="490.2" r="1.95"/><circle cx="472.8" cy="439.1" r="1.95"/><circle cx="394.6" cy="437.0" r="1.95"/><circle cx="486.1" cy="467.4" r="1.95"/><circle cx="379.6" cy="454.4" r="1.95"/><circle cx="503.1" cy="446.0" r="1.95"/><circle cx="471.9" cy="344.9" r="1.95"/><circle cx="483.6" cy="495.7" r="1.95"/><circle cx="494.4" cy="459.6" r="1.95"/><circle cx="450.0" cy="401.3" r="1.95"/><circle cx="489.6" cy="375.7" r="1.95"/><circle cx="502.4" cy="419.5" r="1.95"/><circle cx="500.3" cy="341.3" r="1.95"/><circle cx="431.2" cy="364.0" r="1.95"/><circle cx="463.4" cy="453.1" r="1.95"/><circle cx="421.9" cy="466.9" r="1.95"/><circle cx="478.7" cy="447.9" r="1.95"/><circle cx="499.7" cy="474.7" r="1.95"/><circle cx="458.8" cy="476.7" r="1.95"/><circle cx="414.5" cy="431.3" r="1.95"/><circle cx="367.1" cy="411.4" r="1.95"/><circle cx="368.8" cy="340.3" r="1.95"/><circle cx="481.4" cy="398.2" r="1.95"/><circle cx="413.9" cy="359.7" r="1.95"/><circle cx="454.1" cy="374.4" r="1.95"/><circle cx="378.9" cy="370.4" r="1.95"/><circle cx="465.6" cy="402.6" r="1.95"/><circle cx="383.6" cy="447.9" r="1.95"/><circle cx="372.4" cy="474.2" r="1.95"/><circle cx="501.9" cy="387.6" r="1.95"/><circle cx="452.8" cy="487.6" r="1.95"/><circle cx="422.3" cy="413.4" r="1.95"/><circle cx="506.3" cy="355.1" r="1.95"/><circle cx="484.0" cy="350.0" r="1.95"/><circle cx="441.0" cy="319.6" r="1.95"/><circle cx="391.3" cy="497.2" r="1.95"/><circle cx="402.0" cy="385.7" r="1.95"/><circle cx="380.8" cy="423.4" r="1.95"/><circle cx="419.8" cy="494.1" r="1.95"/><circle cx="492.9" cy="444.8" r="1.95"/><circle cx="377.2" cy="436.8" r="1.95"/><circle cx="429.3" cy="499.6" r="1.95"/><circle cx="417.7" cy="443.8" r="1.95"/><circle cx="455.9" cy="390.2" r="1.95"/><circle cx="463.2" cy="424.3" r="1.95"/><circle cx="429.8" cy="460.7" r="1.95"/><circle cx="472.5" cy="326.1" r="1.95"/><circle cx="501.3" cy="487.1" r="1.95"/><circle cx="386.9" cy="430.0" r="1.95"/><circle cx="448.1" cy="328.3" r="1.95"/><circle cx="474.3" cy="374.2" r="1.95"/><circle cx="405.7" cy="349.9" r="1.95"/><circle cx="447.8" cy="474.8" r="1.95"/><circle cx="410.6" cy="329.6" r="1.95"/><circle cx="408.6" cy="391.5" r="1.95"/><circle cx="503.2" cy="500.4" r="1.95"/><circle cx="393.0" cy="377.7" r="1.95"/><circle cx="411.9" cy="401.9" r="1.95"/><circle cx="422.2" cy="392.0" r="1.95"/><circle cx="502.8" cy="369.7" r="1.95"/><circle cx="395.3" cy="490.3" r="1.95"/><circle cx="430.2" cy="476.9" r="1.95"/><circle cx="473.6" cy="407.9" r="1.95"/><circle cx="483.4" cy="426.0" r="1.95"/><circle cx="404.0" cy="365.3" r="1.95"/><circle cx="382.2" cy="377.2" r="1.95"/><circle cx="457.7" cy="501.4" r="1.95"/><circle cx="456.1" cy="449.6" r="1.95"/><circle cx="392.8" cy="483.4" r="1.95"/><circle cx="461.2" cy="489.0" r="1.95"/><circle cx="437.5" cy="479.7" r="1.95"/><circle cx="423.6" cy="427.4" r="1.95"/><circle cx="478.0" cy="477.1" r="1.95"/><circle cx="493.5" cy="488.5" r="1.95"/><circle cx="471.6" cy="473.8" r="1.95"/><circle cx="466.0" cy="434.6" r="1.95"/><circle cx="367.0" cy="437.8" r="1.95"/><circle cx="374.9" cy="403.3" r="1.95"/><circle cx="382.1" cy="361.7" r="1.95"/><circle cx="397.3" cy="468.7" r="1.95"/><circle cx="370.8" cy="465.8" r="1.95"/><circle cx="438.9" cy="430.2" r="1.95"/><circle cx="434.1" cy="344.6" r="1.95"/><circle cx="430.7" cy="447.8" r="1.95"/><circle cx="423.5" cy="372.6" r="1.95"/><circle cx="439.5" cy="402.0" r="1.95"/><circle cx="394.5" cy="451.8" r="1.95"/><circle cx="504.1" cy="460.1" r="1.95"/><circle cx="375.4" cy="358.2" r="1.95"/><circle cx="368.3" cy="481.8" r="1.95"/><circle cx="506.7" cy="377.0" r="1.95"/><circle cx="388.3" cy="465.7" r="1.95"/><circle cx="433.1" cy="505.7" r="1.95"/><circle cx="446.2" cy="415.0" r="1.95"/><circle cx="466.9" cy="497.2" r="1.95"/><circle cx="505.1" cy="401.6" r="1.95"/><circle cx="470.1" cy="391.7" r="1.95"/><circle cx="385.4" cy="321.9" r="1.95"/><circle cx="420.1" cy="321.2" r="1.95"/><circle cx="432.1" cy="327.6" r="1.95"/><circle cx="492.2" cy="419.9" r="1.95"/><circle cx="435.0" cy="439.7" r="1.95"/><circle cx="494.6" cy="391.4" r="1.95"/><circle cx="431.0" cy="429.6" r="1.95"/><circle cx="433.1" cy="394.7" r="1.95"/><circle cx="400.4" cy="441.6" r="1.95"/><circle cx="386.5" cy="490.4" r="1.95"/><circle cx="400.2" cy="505.0" r="1.95"/><circle cx="456.1" cy="458.9" r="1.95"/><circle cx="371.9" cy="328.7" r="1.95"/><circle cx="498.1" cy="439.6" r="1.95"/><circle cx="458.4" cy="358.4" r="1.95"/><circle cx="416.3" cy="337.2" r="1.95"/><circle cx="377.1" cy="340.9" r="1.95"/><circle cx="427.4" cy="484.6" r="1.95"/><circle cx="402.2" cy="376.0" r="1.95"/><circle cx="415.8" cy="380.5" r="1.95"/><circle cx="484.8" cy="506.4" r="1.95"/><circle cx="401.8" cy="397.0" r="1.95"/><circle cx="369.5" cy="362.9" r="1.95"/><circle cx="413.0" cy="464.3" r="1.95"/><circle cx="478.9" cy="419.5" r="1.95"/><circle cx="381.3" cy="474.7" r="1.95"/><circle cx="418.4" cy="420.5" r="1.95"/><circle cx="442.6" cy="495.8" r="1.95"/><circle cx="407.1" cy="489.9" r="1.95"/><circle cx="467.7" cy="505.6" r="1.95"/><circle cx="472.0" cy="461.1" r="1.95"/><circle cx="370.4" cy="449.4" r="1.95"/><circle cx="396.1" cy="368.3" r="1.95"/><circle cx="376.0" cy="322.2" r="1.95"/><circle cx="405.2" cy="464.2" r="1.95"/><circle cx="484.2" cy="325.3" r="1.95"/><circle cx="483.7" cy="362.0" r="1.95"/><circle cx="461.3" cy="371.7" r="1.95"/><circle cx="367.9" cy="355.2" r="1.95"/><circle cx="494.5" cy="349.2" r="1.95"/><circle cx="398.1" cy="331.7" r="1.95"/><circle cx="384.9" cy="500.6" r="1.95"/><circle cx="417.9" cy="455.4" r="1.95"/><circle cx="440.5" cy="340.5" r="1.95"/><circle cx="474.6" cy="361.6" r="1.95"/><circle cx="457.2" cy="408.2" r="1.95"/><circle cx="434.3" cy="352.2" r="1.95"/><circle cx="417.6" cy="407.7" r="1.95"/><circle cx="471.7" cy="425.3" r="1.95"/><circle cx="489.5" cy="500.4" r="1.95"/><circle cx="497.2" cy="406.2" r="1.95"/><circle cx="430.6" cy="379.3" r="1.95"/><circle cx="505.7" cy="410.0" r="1.95"/><circle cx="458.8" cy="416.3" r="1.95"/><circle cx="399.6" cy="413.3" r="1.95"/><circle cx="452.0" cy="441.9" r="1.95"/><circle cx="487.7" cy="388.6" r="1.95"/><circle cx="494.0" cy="334.9" r="1.95"/><circle cx="389.4" cy="475.2" r="1.95"/><circle cx="403.0" cy="404.9" r="1.95"/><circle cx="387.6" cy="345.3" r="1.95"/><circle cx="373.8" cy="491.5" r="1.95"/><circle cx="447.1" cy="353.6" r="1.95"/><circle cx="461.5" cy="469.8" r="1.95"/><circle cx="493.8" cy="363.2" r="1.95"/><circle cx="499.8" cy="428.0" r="1.95"/><circle cx="486.6" cy="484.0" r="1.95"/><circle cx="368.6" cy="420.1" r="1.95"/><circle cx="404.0" cy="453.2" r="1.95"/><circle cx="469.5" cy="383.7" r="1.95"/><circle cx="373.7" cy="348.4" r="1.95"/><circle cx="448.9" cy="339.8" r="1.95"/><circle cx="441.9" cy="455.7" r="1.95"/><circle cx="379.1" cy="328.7" r="1.95"/><circle cx="383.4" cy="414.8" r="1.95"/><circle cx="497.7" cy="495.1" r="1.95"/><circle cx="378.6" cy="393.5" r="1.95"/><circle cx="506.6" cy="347.4" r="1.95"/><circle cx="424.6" cy="439.0" r="1.95"/><circle cx="442.7" cy="382.7" r="1.95"/><circle cx="462.2" cy="442.2" r="1.95"/><circle cx="401.8" cy="338.4" r="1.95"/><circle cx="410.3" cy="438.4" r="1.95"/><circle cx="371.4" cy="430.6" r="1.95"/><circle cx="507.9" cy="425.0" r="1.95"/><circle cx="395.8" cy="323.9" r="1.95"/><circle cx="445.7" cy="346.5" r="1.95"/><circle cx="432.7" cy="336.9" r="1.95"/><circle cx="367.3" cy="383.5" r="1.95"/><circle cx="405.0" cy="477.1" r="1.95"/><circle cx="401.2" cy="356.9" r="1.95"/><circle cx="411.2" cy="414.4" r="1.95"/><circle cx="392.5" cy="409.7" r="1.95"/><circle cx="426.6" cy="385.7" r="1.95"/><circle cx="486.6" cy="456.5" r="1.95"/><circle cx="387.0" cy="388.3" r="1.95"/><circle cx="444.2" cy="395.2" r="1.95"/><circle cx="493.4" cy="470.0" r="1.95"/><circle cx="427.9" cy="355.8" r="1.95"/><circle cx="491.1" cy="432.5" r="1.95"/><circle cx="476.4" cy="338.8" r="1.95"/><circle cx="489.7" cy="402.6" r="1.95"/><circle cx="469.2" cy="367.7" r="1.95"/><circle cx="499.9" cy="507.1" r="1.95"/><circle cx="480.8" cy="462.1" r="1.95"/><circle cx="455.5" cy="425.3" r="1.95"/><circle cx="467.3" cy="319.8" r="1.95"/><circle cx="507.0" cy="436.7" r="1.95"/><circle cx="447.7" cy="424.9" r="1.95"/><circle cx="495.2" cy="452.3" r="1.95"/><circle cx="486.3" cy="441.3" r="1.95"/><circle cx="374.8" cy="414.8" r="1.95"/><circle cx="460.0" cy="336.7" r="1.95"/><circle cx="413.9" cy="369.5" r="1.95"/><circle cx="423.2" cy="448.9" r="1.95"/><circle cx="506.6" cy="492.5" r="1.95"/><circle cx="448.2" cy="503.0" r="1.95"/><circle cx="428.4" cy="320.2" r="1.95"/><circle cx="423.3" cy="350.0" r="1.95"/><circle cx="493.6" cy="383.2" r="1.95"/><circle cx="471.9" cy="484.2" r="1.95"/><circle cx="401.2" cy="424.3" r="1.95"/><circle cx="418.7" cy="485.1" r="1.95"/><circle cx="429.3" cy="491.6" r="1.95"/><circle cx="377.7" cy="481.8" r="1.95"/><circle cx="502.3" cy="362.4" r="1.95"/><circle cx="429.5" cy="406.3" r="1.95"/><circle cx="369.1" cy="370.4" r="1.95"/><circle cx="410.8" cy="448.0" r="1.95"/><circle cx="446.7" cy="371.3" r="1.95"/><circle cx="388.6" cy="400.8" r="1.95"/><circle cx="482.4" cy="376.3" r="1.95"/><circle cx="371.3" cy="458.0" r="1.95"/><circle cx="392.8" cy="353.6" r="1.95"/><circle cx="380.1" cy="385.0" r="1.95"/><circle cx="410.2" cy="322.0" r="1.95"/><circle cx="477.3" cy="455.5" r="1.95"/><circle cx="409.1" cy="422.0" r="1.95"/><circle cx="374.6" cy="507.1" r="1.95"/><circle cx="426.7" cy="398.7" r="1.95"/><circle cx="459.7" cy="379.5" r="1.95"/><circle cx="405.8" cy="500.1" r="1.95"/><circle cx="483.3" cy="333.7" r="1.95"/><circle cx="470.4" cy="449.1" r="1.95"/><circle cx="419.3" cy="507.3" r="1.95"/><circle cx="507.8" cy="393.1" r="1.95"/><circle cx="485.6" cy="475.4" r="1.95"/><circle cx="439.5" cy="363.6" r="1.95"/><circle cx="446.5" cy="432.5" r="1.95"/><circle cx="479.6" cy="369.1" r="1.95"/></g>
<rect x="376" y="319" width="27" height="189" fill="#880505" stroke="#2a0000" stroke-width="0.8"/>
<rect x="424.8" y="319" width="27.399999999999977" height="189" fill="#880505" stroke="#2a0000" stroke-width="0.8"/>
<line x1="508.6" y1="319" x2="508.6" y2="508" stroke="#222" stroke-width="1"/>
<g clip-path="url(#c22)">
<use href="#anc" transform="translate(318,412)"/>
<use href="#screw5" transform="translate(509.6,412)"/>
<use href="#bit" transform="translate(615,412)"/>
<use href="#head" transform="translate(594,412)"/>
</g>
<use href="#rot" transform="translate(580.7,335) scale(0.99)"/>
<rect x="365.5" y="319.5" width="37.4" height="26" fill="#ff0000"/>
<text x="384.2" y="340.4" text-anchor="middle" font-family='"Liberation Sans", sans-serif' font-weight="bold" font-size="21.5" fill="#fff">2</text>
<rect x="365.7" y="319.2" width="288.1" height="189.1" fill="none" stroke="#161616" stroke-width="2.4"/>
<rect x="677" y="319" width="288" height="189" fill="url(#sky)"/>
<rect x="677" y="319" width="212.4" height="189" fill="#860605"/>
<rect x="686" y="319" width="22.600000000000023" height="189" fill="#f6853f" stroke="#2a0000" stroke-width="0.8"/>
<g fill="#151010"><circle cx="701.0" cy="412.7" r="1.95"/><circle cx="706.8" cy="403.5" r="1.95"/><circle cx="694.2" cy="324.4" r="1.95"/><circle cx="696.7" cy="419.6" r="1.95"/><circle cx="693.2" cy="339.3" r="1.95"/><circle cx="697.0" cy="332.8" r="1.95"/><circle cx="690.2" cy="403.0" r="1.95"/><circle cx="698.0" cy="392.5" r="1.95"/><circle cx="698.6" cy="501.9" r="1.95"/><circle cx="692.6" cy="385.6" r="1.95"/><circle cx="693.4" cy="459.1" r="1.95"/><circle cx="697.2" cy="469.1" r="1.95"/><circle cx="686.6" cy="344.4" r="1.95"/><circle cx="700.4" cy="431.3" r="1.95"/><circle cx="704.4" cy="382.4" r="1.95"/><circle cx="687.3" cy="499.5" r="1.95"/><circle cx="694.6" cy="440.4" r="1.95"/><circle cx="692.6" cy="492.1" r="1.95"/><circle cx="694.5" cy="371.3" r="1.95"/><circle cx="705.8" cy="361.4" r="1.95"/><circle cx="692.4" cy="411.0" r="1.95"/><circle cx="707.7" cy="341.2" r="1.95"/><circle cx="703.4" cy="453.5" r="1.95"/><circle cx="690.0" cy="483.9" r="1.95"/><circle cx="698.9" cy="481.8" r="1.95"/><circle cx="690.1" cy="364.6" r="1.95"/><circle cx="696.7" cy="346.0" r="1.95"/><circle cx="693.2" cy="476.2" r="1.95"/><circle cx="706.8" cy="492.9" r="1.95"/><circle cx="707.8" cy="332.5" r="1.95"/><circle cx="707.8" cy="321.7" r="1.95"/><circle cx="688.1" cy="392.6" r="1.95"/><circle cx="688.6" cy="428.5" r="1.95"/><circle cx="707.4" cy="482.0" r="1.95"/><circle cx="689.2" cy="468.4" r="1.95"/><circle cx="708.0" cy="432.1" r="1.95"/><circle cx="686.7" cy="321.3" r="1.95"/><circle cx="707.5" cy="368.8" r="1.95"/><circle cx="705.9" cy="425.2" r="1.95"/><circle cx="699.0" cy="364.4" r="1.95"/><circle cx="700.3" cy="353.6" r="1.95"/><circle cx="696.0" cy="447.9" r="1.95"/><circle cx="687.2" cy="439.8" r="1.95"/><circle cx="706.5" cy="462.8" r="1.95"/></g>
<rect x="734.8" y="319" width="21.200000000000045" height="189" fill="#f6853f" stroke="#2a0000" stroke-width="0.8"/>
<g fill="#151010"><circle cx="737.1" cy="325.3" r="1.95"/><circle cx="749.5" cy="431.7" r="1.95"/><circle cx="748.5" cy="413.6" r="1.95"/><circle cx="736.0" cy="404.4" r="1.95"/><circle cx="736.2" cy="342.9" r="1.95"/><circle cx="753.6" cy="421.9" r="1.95"/><circle cx="738.6" cy="452.3" r="1.95"/><circle cx="754.0" cy="482.1" r="1.95"/><circle cx="748.3" cy="471.3" r="1.95"/><circle cx="751.7" cy="383.7" r="1.95"/><circle cx="738.2" cy="482.2" r="1.95"/><circle cx="749.5" cy="320.9" r="1.95"/><circle cx="736.6" cy="424.3" r="1.95"/><circle cx="753.0" cy="339.3" r="1.95"/><circle cx="746.9" cy="353.7" r="1.95"/><circle cx="742.0" cy="347.6" r="1.95"/><circle cx="744.7" cy="328.2" r="1.95"/><circle cx="748.6" cy="441.0" r="1.95"/><circle cx="753.6" cy="463.9" r="1.95"/><circle cx="746.3" cy="495.5" r="1.95"/><circle cx="741.9" cy="444.0" r="1.95"/><circle cx="749.6" cy="406.0" r="1.95"/><circle cx="740.9" cy="398.5" r="1.95"/><circle cx="749.7" cy="362.4" r="1.95"/><circle cx="740.8" cy="502.2" r="1.95"/><circle cx="740.7" cy="464.6" r="1.95"/><circle cx="741.5" cy="335.6" r="1.95"/><circle cx="735.8" cy="385.6" r="1.95"/><circle cx="750.3" cy="369.8" r="1.95"/><circle cx="753.0" cy="448.4" r="1.95"/><circle cx="745.2" cy="422.0" r="1.95"/><circle cx="740.5" cy="361.4" r="1.95"/><circle cx="742.7" cy="408.4" r="1.95"/><circle cx="755.0" cy="356.2" r="1.95"/><circle cx="746.6" cy="458.4" r="1.95"/><circle cx="754.9" cy="474.8" r="1.95"/><circle cx="755.4" cy="330.6" r="1.95"/><circle cx="738.3" cy="414.8" r="1.95"/><circle cx="736.5" cy="495.3" r="1.95"/><circle cx="738.3" cy="368.4" r="1.95"/><circle cx="744.0" cy="379.2" r="1.95"/><circle cx="748.8" cy="396.9" r="1.95"/></g>
<rect x="783.4" y="319" width="22.600000000000023" height="189" fill="#f6853f" stroke="#2a0000" stroke-width="0.8"/>
<g fill="#151010"><circle cx="799.2" cy="374.3" r="1.95"/><circle cx="793.8" cy="424.2" r="1.95"/><circle cx="799.4" cy="442.2" r="1.95"/><circle cx="793.2" cy="335.6" r="1.95"/><circle cx="786.3" cy="347.1" r="1.95"/><circle cx="798.2" cy="383.6" r="1.95"/><circle cx="803.5" cy="363.5" r="1.95"/><circle cx="789.2" cy="353.9" r="1.95"/><circle cx="787.0" cy="447.7" r="1.95"/><circle cx="796.4" cy="366.7" r="1.95"/><circle cx="793.2" cy="433.8" r="1.95"/><circle cx="798.1" cy="402.4" r="1.95"/><circle cx="785.9" cy="388.0" r="1.95"/><circle cx="804.3" cy="389.7" r="1.95"/><circle cx="800.6" cy="482.0" r="1.95"/><circle cx="798.7" cy="415.3" r="1.95"/><circle cx="804.6" cy="500.4" r="1.95"/><circle cx="802.0" cy="324.1" r="1.95"/><circle cx="786.7" cy="503.0" r="1.95"/><circle cx="802.8" cy="435.3" r="1.95"/><circle cx="786.5" cy="483.1" r="1.95"/><circle cx="789.9" cy="475.7" r="1.95"/><circle cx="785.6" cy="411.0" r="1.95"/><circle cx="784.6" cy="334.9" r="1.95"/><circle cx="794.8" cy="327.6" r="1.95"/><circle cx="791.4" cy="373.0" r="1.95"/><circle cx="787.9" cy="495.0" r="1.95"/><circle cx="799.8" cy="350.1" r="1.95"/><circle cx="788.6" cy="395.8" r="1.95"/><circle cx="785.5" cy="428.7" r="1.95"/><circle cx="797.2" cy="453.3" r="1.95"/><circle cx="798.7" cy="394.2" r="1.95"/><circle cx="803.2" cy="474.6" r="1.95"/><circle cx="795.8" cy="497.8" r="1.95"/><circle cx="798.8" cy="340.5" r="1.95"/><circle cx="785.9" cy="420.9" r="1.95"/><circle cx="787.9" cy="460.3" r="1.95"/><circle cx="802.7" cy="424.7" r="1.95"/><circle cx="800.0" cy="463.3" r="1.95"/><circle cx="787.6" cy="379.8" r="1.95"/><circle cx="794.2" cy="409.1" r="1.95"/><circle cx="800.1" cy="333.2" r="1.95"/><circle cx="788.4" cy="363.0" r="1.95"/><circle cx="794.0" cy="489.1" r="1.95"/></g>
<rect x="833.3" y="319" width="56.10000000000002" height="189" fill="#f6853f" stroke="#2a0000" stroke-width="0.8"/>
<g fill="#151010"><circle cx="878.1" cy="506.4" r="1.95"/><circle cx="886.6" cy="427.3" r="1.95"/><circle cx="874.3" cy="445.6" r="1.95"/><circle cx="855.9" cy="413.3" r="1.95"/><circle cx="861.8" cy="360.1" r="1.95"/><circle cx="848.2" cy="478.3" r="1.95"/><circle cx="880.4" cy="450.6" r="1.95"/><circle cx="871.7" cy="415.4" r="1.95"/><circle cx="865.4" cy="444.8" r="1.95"/><circle cx="834.2" cy="402.9" r="1.95"/><circle cx="887.2" cy="358.2" r="1.95"/><circle cx="859.6" cy="334.1" r="1.95"/><circle cx="835.6" cy="469.7" r="1.95"/><circle cx="877.8" cy="482.7" r="1.95"/><circle cx="848.0" cy="494.6" r="1.95"/><circle cx="854.3" cy="404.2" r="1.95"/><circle cx="871.3" cy="340.3" r="1.95"/><circle cx="834.1" cy="369.2" r="1.95"/><circle cx="871.2" cy="355.6" r="1.95"/><circle cx="873.0" cy="379.3" r="1.95"/><circle cx="879.7" cy="467.5" r="1.95"/><circle cx="852.5" cy="343.5" r="1.95"/><circle cx="851.7" cy="458.6" r="1.95"/><circle cx="864.8" cy="344.8" r="1.95"/><circle cx="847.1" cy="408.8" r="1.95"/><circle cx="834.6" cy="327.9" r="1.95"/><circle cx="882.8" cy="343.7" r="1.95"/><circle cx="851.2" cy="421.4" r="1.95"/><circle cx="888.5" cy="435.5" r="1.95"/><circle cx="855.1" cy="503.0" r="1.95"/><circle cx="851.2" cy="442.1" r="1.95"/><circle cx="843.8" cy="505.7" r="1.95"/><circle cx="866.8" cy="467.2" r="1.95"/><circle cx="848.6" cy="433.8" r="1.95"/><circle cx="863.4" cy="430.1" r="1.95"/><circle cx="882.9" cy="372.5" r="1.95"/><circle cx="848.9" cy="354.2" r="1.95"/><circle cx="840.0" cy="479.2" r="1.95"/><circle cx="853.7" cy="489.5" r="1.95"/><circle cx="861.5" cy="322.4" r="1.95"/><circle cx="840.6" cy="381.6" r="1.95"/><circle cx="838.8" cy="342.5" r="1.95"/><circle cx="882.2" cy="327.5" r="1.95"/><circle cx="879.0" cy="334.8" r="1.95"/><circle cx="836.4" cy="499.0" r="1.95"/><circle cx="839.0" cy="441.0" r="1.95"/><circle cx="870.9" cy="363.0" r="1.95"/><circle cx="871.9" cy="436.4" r="1.95"/><circle cx="837.2" cy="486.1" r="1.95"/><circle cx="845.6" cy="320.4" r="1.95"/><circle cx="862.5" cy="483.1" r="1.95"/><circle cx="865.7" cy="406.0" r="1.95"/><circle cx="882.4" cy="416.4" r="1.95"/><circle cx="851.1" cy="386.1" r="1.95"/><circle cx="860.9" cy="374.9" r="1.95"/><circle cx="888.8" cy="457.5" r="1.95"/><circle cx="854.3" cy="451.1" r="1.95"/><circle cx="868.5" cy="499.7" r="1.95"/><circle cx="859.4" cy="456.4" r="1.95"/><circle cx="883.1" cy="491.8" r="1.95"/><circle cx="854.1" cy="320.8" r="1.95"/><circle cx="856.4" cy="365.9" r="1.95"/><circle cx="878.6" cy="460.4" r="1.95"/><circle cx="843.7" cy="364.9" r="1.95"/><circle cx="836.0" cy="423.2" r="1.95"/><circle cx="838.3" cy="354.9" r="1.95"/><circle cx="887.3" cy="349.5" r="1.95"/><circle cx="841.5" cy="391.2" r="1.95"/><circle cx="877.3" cy="421.8" r="1.95"/><circle cx="842.3" cy="455.9" r="1.95"/><circle cx="883.2" cy="387.4" r="1.95"/><circle cx="864.0" cy="397.3" r="1.95"/><circle cx="852.3" cy="393.6" r="1.95"/><circle cx="840.7" cy="416.5" r="1.95"/><circle cx="844.3" cy="336.6" r="1.95"/><circle cx="872.7" cy="456.0" r="1.95"/><circle cx="869.1" cy="490.5" r="1.95"/><circle cx="845.3" cy="346.8" r="1.95"/><circle cx="845.9" cy="398.2" r="1.95"/><circle cx="860.2" cy="389.5" r="1.95"/><circle cx="888.2" cy="394.5" r="1.95"/><circle cx="874.5" cy="323.4" r="1.95"/><circle cx="867.7" cy="477.5" r="1.95"/><circle cx="885.6" cy="403.7" r="1.95"/><circle cx="876.6" cy="347.6" r="1.95"/><circle cx="843.7" cy="426.3" r="1.95"/><circle cx="873.0" cy="403.8" r="1.95"/><circle cx="886.6" cy="499.2" r="1.95"/><circle cx="844.7" cy="467.9" r="1.95"/><circle cx="837.1" cy="433.6" r="1.95"/><circle cx="834.5" cy="453.9" r="1.95"/><circle cx="841.0" cy="373.2" r="1.95"/><circle cx="885.2" cy="443.9" r="1.95"/><circle cx="875.0" cy="473.1" r="1.95"/><circle cx="855.6" cy="480.8" r="1.95"/><circle cx="875.4" cy="393.0" r="1.95"/><circle cx="848.7" cy="373.3" r="1.95"/><circle cx="880.6" cy="362.7" r="1.95"/><circle cx="868.0" cy="388.3" r="1.95"/><circle cx="857.1" cy="470.3" r="1.95"/><circle cx="888.5" cy="377.3" r="1.95"/><circle cx="858.4" cy="439.9" r="1.95"/><circle cx="866.7" cy="328.8" r="1.95"/><circle cx="839.3" cy="448.4" r="1.95"/><circle cx="858.5" cy="349.4" r="1.95"/><circle cx="848.7" cy="328.4" r="1.95"/><circle cx="877.2" cy="431.4" r="1.95"/><circle cx="861.5" cy="496.2" r="1.95"/><circle cx="858.4" cy="420.3" r="1.95"/><circle cx="847.3" cy="449.1" r="1.95"/><circle cx="887.4" cy="485.8" r="1.95"/></g>
<rect x="686" y="393.5" width="22.6" height="37.5" fill="url(#holeb)" stroke="#3a1a10" stroke-width="0.8"/>
<line x1="889.4" y1="319" x2="889.4" y2="508" stroke="#222" stroke-width="1"/>
<g transform="translate(687.7,412.3)">
<path d="M0,0 L14,-7 L25,-7 L25,7 L14,7 Z" fill="url(#metal)" stroke="#111" stroke-width="1"/>
<path d="M12,-10 L17,9" stroke="#111" stroke-width="2.4"/>
<path d="M72,-21 L76,-25.9 L95.7,-24.7 L102.3,-20.4 L111,-18.7 L118.8,-21.5 L129.8,-28 L146.3,-23.7 L198,-24.7 L198,-26 L201.5,-26 L201.5,26 L198,26 L198,24.7 L146.3,23.7 L129.8,28 L118.8,21.5 L111,18.7 L102.3,20.4 L95.7,24.7 L76,25.9 L72,21 Z" fill="#e4e4e6" stroke="#1a1a1a" stroke-width="1.2" stroke-linejoin="round"/>
<path d="M89,-15.9 C95,-13 99,-10.5 104,-10.5 C108,-12 112,-16 116,-17.5 C122,-21 126,-22.5 130,-22 C138,-21 142,-17 148,-17 L198,-17 M89,15.9 C95,13 99,10.5 104,10.5 C108,12 112,16 116,17.5 C122,21 126,22.5 130,22 C138,21 142,17 148,17 L198,17" fill="none" stroke="#222" stroke-width="1.1"/>
<rect x="198" y="-26" width="3.5" height="52" fill="#8a8a8c"/>
<path d="M164,0 L198,0" stroke="#777" stroke-width="2.5"/>
<path d="M25,-10 Q28,-19.5 34,-19.5 L86,-19.5 Q90,-19 90,-14 L90,14 Q90,19 86,19.5 L34,19.5 Q28,19.5 25,10 Z" fill="url(#redg)" stroke="#3a0a06" stroke-width="0.9"/>
<path d="M25.5,-3 Q26,-10 31,-12 L31,-3 Z M25.5,3 Q26,10 31,12 L31,3 Z" fill="#f4f4f4" stroke="#333" stroke-width="0.5"/>
<path d="M49.0,-11 Q38.5,-4.5 35.5,0 Q38.5,4.5 49.0,11" fill="none" stroke="#2b3a44" stroke-width="3.8" stroke-linecap="round"/>
<path d="M48.3,-10.6 Q38.1,-4.3 35.3,0 Q38.1,4.3 48.3,10.6" fill="none" stroke="#ffffff" stroke-width="2.2" stroke-linecap="round"/>
<path d="M60.0,-11 Q49.5,-4.5 46.5,0 Q49.5,4.5 60.0,11" fill="none" stroke="#2b3a44" stroke-width="3.8" stroke-linecap="round"/>
<path d="M59.3,-10.6 Q49.1,-4.3 46.3,0 Q49.1,4.3 59.3,10.6" fill="none" stroke="#ffffff" stroke-width="2.2" stroke-linecap="round"/>
<path d="M71.0,-11 Q60.5,-4.5 57.5,0 Q60.5,4.5 71.0,11" fill="none" stroke="#2b3a44" stroke-width="3.8" stroke-linecap="round"/>
<path d="M70.3,-10.6 Q60.1,-4.3 57.3,0 Q60.1,4.3 70.3,10.6" fill="none" stroke="#ffffff" stroke-width="2.2" stroke-linecap="round"/>
<path d="M82.0,-11 Q71.5,-4.5 68.5,0 Q71.5,4.5 82.0,11" fill="none" stroke="#2b3a44" stroke-width="3.8" stroke-linecap="round"/>
<path d="M81.3,-10.6 Q71.1,-4.3 68.3,0 Q71.1,4.3 81.3,10.6" fill="none" stroke="#ffffff" stroke-width="2.2" stroke-linecap="round"/>
<path d="M89,-11 L104,-11 Q108,-11 111,-8 L157,-8 Q163,-8 163,0 Q163,8 157,8 L111,8 Q108,11 104,11 L89,11 Z" fill="#f0180e"/>
</g>
<rect x="889.4" y="405.5" width="40" height="14" fill="url(#shank)" stroke="#222" stroke-width="0.9"/>
<path d="M892.5,405.5 C895,400.5 896,399.0 897.5,399.0 C900,401.0 902,421.0 903.5,426.0 C905,426.0 907,422.5 908,419.5 M906.5,405.5 C909,400.5 910,399.0 911.5,399.0 C914,401.0 916,421.0 917.5,426.0 C919,426.0 921,422.5 922,419.5" fill="none" stroke="#111" stroke-width="3" stroke-linecap="round"/>
<use href="#head" transform="translate(926,412.2)"/>
<rect x="676" y="319.5" width="37.6" height="25.5" fill="#ff0000"/>
<text x="694.8" y="340.15" text-anchor="middle" font-family='"Liberation Sans", sans-serif' font-weight="bold" font-size="21.5" fill="#fff">3</text>
<rect x="676.7" y="318.7" width="288.1" height="188.6" fill="none" stroke="#161616" stroke-width="2.4"/>
<rect x="57" y="532.5" width="288" height="188" fill="url(#sky)"/>
<rect x="127.3" y="532.5" width="52.4" height="188" fill="url(#board)" stroke="#555" stroke-width="1"/>
<rect x="128" y="605.5" width="18" height="38.7" fill="url(#holeg)"/>
<use href="#anc" transform="translate(141,625.5)"/>
<use href="#larr" x="214.6" y="565"/>
<rect x="57.5" y="533.2" width="36" height="26" fill="#ff0000"/>
<path d="M76.8,539.6 L79.7,539.6 L79.7,555.0 L76.8,555.0 L76.8,544.4000000000001 Q75.0,546.0 72.5,546.6 L72.5,543.9000000000001 Q75.5,542.5 76.8,539.6 Z" fill="#fff"/>
<rect x="57.400000000000006" y="532.7" width="287.40000000000003" height="187.6" fill="none" stroke="#161616" stroke-width="2.4"/>
<clipPath id="c32"><rect x="366" y="532.5" width="287" height="188"/></clipPath>
<rect x="366" y="532.5" width="287" height="188" fill="url(#sky)"/>
<rect x="457.2" y="532.5" width="51.2" height="188" fill="url(#board)" stroke="#555" stroke-width="1"/>
<g clip-path="url(#c32)">
<use href="#anc" transform="translate(317.9,625.5)"/>
<use href="#screw5" transform="translate(509.6,625.5)"/>
<use href="#bit" transform="translate(615,625.5)"/>
<use href="#head" transform="translate(594,625.5)"/>
</g>
<use href="#rot" transform="translate(579.4,548) scale(1,0.985)"/>
<rect x="365.5" y="533" width="37" height="26" fill="#ff0000"/>
<text x="384.0" y="553.9" text-anchor="middle" font-family='"Liberation Sans", sans-serif' font-weight="bold" font-size="21.5" fill="#fff">2</text>
<rect x="365.7" y="532.7" width="287.30000000000007" height="187.6" fill="none" stroke="#161616" stroke-width="2.4"/>
<rect x="675.5" y="532.5" width="287" height="188" fill="url(#sky)"/>
<rect x="837" y="532.5" width="52.4" height="188" fill="url(#board)" stroke="#555" stroke-width="1"/>
<rect x="675.5" y="618.5" width="86" height="14" fill="url(#shank)" stroke="#222" stroke-width="0.9"/>
<path d="M677.5,618.5 C680.0,613.5 681.0,612.0 682.5,612.0 C685.0,614.0 687.0,634.0 688.5,639.0 C690.0,639.0 692.0,635.5 693.0,632.5" fill="none" stroke="#111" stroke-width="3" stroke-linecap="round"/>
<path d="M692.0,618.5 C694.5,613.5 695.5,612.0 697.0,612.0 C699.5,614.0 701.5,634.0 703.0,639.0 C704.5,639.0 706.5,635.5 707.5,632.5" fill="none" stroke="#111" stroke-width="3" stroke-linecap="round"/>
<path d="M706.5,618.5 C709.0,613.5 710.0,612.0 711.5,612.0 C714.0,614.0 716.0,634.0 717.5,639.0 C719.0,639.0 721.0,635.5 722.0,632.5" fill="none" stroke="#111" stroke-width="3" stroke-linecap="round"/>
<path d="M721.0,618.5 C723.5,613.5 724.5,612.0 726.0,612.0 C728.5,614.0 730.5,634.0 732.0,639.0 C733.5,639.0 735.5,635.5 736.5,632.5" fill="none" stroke="#111" stroke-width="3" stroke-linecap="round"/>
<path d="M735.5,618.5 C738.0,613.5 739.0,612.0 740.5,612.0 C743.0,614.0 745.0,634.0 746.5,639.0 C748.0,639.0 750.0,635.5 751.0,632.5" fill="none" stroke="#111" stroke-width="3" stroke-linecap="round"/>
<path d="M750.0,618.5 C752.5,613.5 753.5,612.0 755.0,612.0 C757.5,614.0 759.5,634.0 761.0,639.0 C762.5,639.0 764.5,635.5 765.5,632.5" fill="none" stroke="#111" stroke-width="3" stroke-linecap="round"/>
<path d="M838.4,603.6 L882.3,603.6 L882.3,599.8 L887.6,599.8 L887.6,652 L882.3,652 L882.3,648.3 L838.4,648.3 Z" fill="url(#grayb)" stroke="#1e1e20" stroke-width="1.1"/>
<path d="M838.4,607.5 L882,607.5 M838.4,644.5 L882,644.5" stroke="#555" stroke-width="0.9"/>
<rect x="838.4" y="622" width="44" height="5" fill="#9a9a9c"/>
<path d="M764,607 Q766,605.9 770,605.9 L807.4,605.9 L807.4,645.2 L770,645.2 Q766,645.2 764,644 Q760.4,636 760.4,625.5 Q760.4,615 764,607 Z" fill="url(#redg)" stroke="#3a0a06" stroke-width="0.9"/>
<path d="M761.5,622.5 Q762,614 766,611.5 L766,622.5 Z M761.5,628.5 Q762,637 766,639.5 L766,628.5 Z" fill="#f4f4f4" stroke="#333" stroke-width="0.5"/>
<path d="M781,-11 Q771.8,-4.5 769,0 Q771.8,4.5 781,11" transform="translate(0,625.5)" fill="none" stroke="#2b3a44" stroke-width="3.8" stroke-linecap="round"/>
<path d="M780.4,-10.5 Q771.5,-4.2 768.8,0 Q771.5,4.2 780.4,10.5" transform="translate(0,625.5)" fill="none" stroke="#fff" stroke-width="2.2" stroke-linecap="round"/>
<path d="M792,-11 Q782.8,-4.5 780,0 Q782.8,4.5 792,11" transform="translate(0,625.5)" fill="none" stroke="#2b3a44" stroke-width="3.8" stroke-linecap="round"/>
<path d="M791.4,-10.5 Q782.5,-4.2 779.8,0 Q782.5,4.2 791.4,10.5" transform="translate(0,625.5)" fill="none" stroke="#fff" stroke-width="2.2" stroke-linecap="round"/>
<path d="M803,-11 Q793.8,-4.5 791,0 Q793.8,4.5 803,11" transform="translate(0,625.5)" fill="none" stroke="#2b3a44" stroke-width="3.8" stroke-linecap="round"/>
<path d="M802.4,-10.5 Q793.5,-4.2 790.8,0 Q793.5,4.2 802.4,10.5" transform="translate(0,625.5)" fill="none" stroke="#fff" stroke-width="2.2" stroke-linecap="round"/>
<path d="M822.5,569.5 Q819,569.5 812,575 Q808.5,578 808.3,583 L808,668 Q808.2,675 811.5,678 Q818,681.6 822.5,681.6 Q828,681.6 834,678 Q838.4,675 838.4,668 L838.4,583 Q838.2,578 834,575 Q826,569.5 822.5,569.5 Z" fill="#e0e0e2" stroke="#1e1e20" stroke-width="1.2"/>
<path d="M823,577.9 L830.8,584 L830.8,618 L823,622.5 L815.7,618 L815.7,584 Z M823,630 L830.8,634.5 L830.8,668 L823,674 L815.7,668 L815.7,634.5 Z" fill="#cfcfd1" stroke="#1e1e20" stroke-width="1"/>
<path d="M819,586 L819,616 M827,586 L827,616 M819,636 L819,666 M827,636 L827,666" stroke="#9a9a9c" stroke-width="1"/>
<path d="M816,619 L830,631 M830,619 L816,631" stroke="#333" stroke-width="1"/>
<path d="M806,612 Q807,603 814,602 Q820,600 826,603 Q832,607 834,614 L838,619 Q842,618 846,619 Q851,621 850.5,627 Q850,633 845,633 L838,632.5 Q833,631 830,627 Q826,626 822,625 Q818,622 814,625 Q808,625 806,619 Z" fill="#ee1c12" stroke="#3a0a06" stroke-width="0.9"/>
<rect x="888.2" y="618.5" width="42" height="14" fill="url(#shank)" stroke="#222" stroke-width="0.9"/>
<path d="M890.5,618.5 C893,613.5 894,612.0 895.5,612.0 C898,614.0 900,634.0 901.5,639.0 C903,639.0 905,635.5 906,632.5" fill="none" stroke="#111" stroke-width="3" stroke-linecap="round"/>
<path d="M905.0,618.5 C907.5,613.5 908.5,612.0 910.0,612.0 C912.5,614.0 914.5,634.0 916.0,639.0 C917.5,639.0 919.5,635.5 920.5,632.5" fill="none" stroke="#111" stroke-width="3" stroke-linecap="round"/>
<use href="#head" transform="translate(924,626.5) scale(1,0.98)"/>
<rect x="675.5" y="533" width="36.1" height="26" fill="#ff0000"/>
<text x="693.55" y="553.9" text-anchor="middle" font-family='"Liberation Sans", sans-serif' font-weight="bold" font-size="21.5" fill="#fff">3</text>
<rect x="675.7" y="532.7" width="286.6" height="187.6" fill="none" stroke="#161616" stroke-width="2.4"/>
<path d="M1051.7,753.3 L1051.7,109.7 A38,38 0 0 1 1089.7,71.7 L1232.7,71.7 A38,38 0 0 1 1270.7,109.7 L1270.7,753.3 Z" fill="#fff" stroke="#22c822" stroke-width="3.4"/>
<rect x="1050" y="154.3" width="222.4" height="137.7" fill="#33cc33"/>
<path d="M1116.8,104.4 L1122.3,101.1 L1128,102.5 L1131,101 L1136,102.4 L1146,128.6 L1189.6,77 L1195.9,78.7 L1200,78 L1205.8,81.2 L1203.3,87.4 L1151,148.5 L1147.2,151.8 L1139.8,147.3 L1122.3,117.4 Z" fill="#33cc33"/>
<text x="1160.2" y="186" text-anchor="middle" font-family='"Liberation Sans", sans-serif' font-weight="bold" font-size="27" fill="#fff" textLength="128.5" lengthAdjust="spacingAndGlyphs">CORRECT</text>
<text x="1157.2" y="212" text-anchor="middle" font-family='"Liberation Sans", sans-serif' font-weight="bold" font-size="13" fill="#fff" textLength="157" lengthAdjust="spacingAndGlyphs">The anchor must be placed</text>
<text x="1157.2" y="226.5" text-anchor="middle" font-family='"Liberation Sans", sans-serif' font-weight="bold" font-size="13" fill="#fff" textLength="127" lengthAdjust="spacingAndGlyphs">completely in the wall</text>
<text x="1157.8" y="241.5" text-anchor="middle" font-family='"Liberation Sans", sans-serif' font-weight="bold" font-size="13" fill="#fff" textLength="161" lengthAdjust="spacingAndGlyphs">and ONLY the screw´s cone</text>
<text x="1158.4" y="256" text-anchor="middle" font-family='"Liberation Sans", sans-serif' font-weight="bold" font-size="13" fill="#fff" textLength="130" lengthAdjust="spacingAndGlyphs">head should be visible</text>
<text x="1157.2" y="270.5" text-anchor="middle" font-family='"Liberation Sans", sans-serif' font-weight="bold" font-size="13" fill="#fff" textLength="95" lengthAdjust="spacingAndGlyphs">outside the wall</text>
<text x="1222" y="315.3" text-anchor="middle" font-family='"Liberation Sans", sans-serif' font-weight="normal" font-size="13.5" fill="#111" textLength="80" lengthAdjust="spacingAndGlyphs">3mm/0,012”</text>
<path d="M1213.5,329 Q1214,322 1222,322 L1223,319 L1224,322 Q1232,322 1232.5,329" fill="none" stroke="#e01818" stroke-width="1.6"/>
<line x1="1217.5" y1="330" x2="1217.5" y2="350" stroke="#e01818" stroke-width="1.6"/>
<line x1="1228.8" y1="330" x2="1228.8" y2="382" stroke="#e01818" stroke-width="1.6"/>
<rect x="1074" y="352.7" width="143" height="88.1" fill="#6d2017"/>
<rect x="1074" y="457" width="143" height="274.4" fill="#6d2017"/>
<rect x="1236" y="455.5" width="14.7" height="275.9" fill="#fd7b34"/>
<path d="M1235,472.4 L1235,528.5 L1217.6,548.5 L1217.6,637.4 L1235,658.6 L1235,714.7" fill="none" stroke="#7b7b7d" stroke-width="1.4"/>
<g transform="translate(1217,397)"><path d="M-123.4,0 L-117,-10.5 L2.6,-10.5 L2.6,10.5 L-117,10.5 Z" fill="#ffffff"/><path d="M-117,0 L-103,-2.5 L-99,-6 L-97,-3 L-95,-6 L-93,-3 L-93,3 L-95,6 L-97,3 L-99,6 L-103,2.5 Z" fill="#707072"/><rect x="-55" y="-10" width="56" height="20" fill="#d5d5d6"/><g fill="#f2f2f2"><circle cx="-54.0" cy="-8.3" r="1.1"/><circle cx="-54.0" cy="8.3" r="1.1"/><circle cx="-48.5" cy="-8.3" r="1.1"/><circle cx="-48.5" cy="8.3" r="1.1"/><circle cx="-43.0" cy="-8.3" r="1.1"/><circle cx="-43.0" cy="8.3" r="1.1"/><circle cx="-37.5" cy="-8.3" r="1.1"/><circle cx="-37.5" cy="8.3" r="1.1"/><circle cx="-32.0" cy="-8.3" r="1.1"/><circle cx="-32.0" cy="8.3" r="1.1"/><circle cx="-26.5" cy="-8.3" r="1.1"/><circle cx="-26.5" cy="8.3" r="1.1"/><circle cx="-21.0" cy="-8.3" r="1.1"/><circle cx="-21.0" cy="8.3" r="1.1"/><circle cx="-15.5" cy="-8.3" r="1.1"/><circle cx="-15.5" cy="8.3" r="1.1"/><circle cx="-10.0" cy="-8.3" r="1.1"/><circle cx="-10.0" cy="8.3" r="1.1"/><circle cx="-4.5" cy="-8.3" r="1.1"/><circle cx="-4.5" cy="8.3" r="1.1"/></g><rect x="-1" y="-11" width="2.5" height="22" fill="#cfcfd0"/><path d="M-97,-7 L-93,-7 Q-92,-9.5 -89,-9.5 L-84,-9.5 Q-82.5,-7.5 -81,-9.5 L-76,-9.5 Q-74.5,-7.5 -73,-9.5 L-68,-9.5 Q-66.5,-7.5 -65,-9.5 L-57,-9.5 L-57,9.5 L-65,9.5 Q-66.5,7.5 -68,9.5 L-73,9.5 Q-74.5,7.5 -76,9.5 L-81,9.5 Q-82.5,7.5 -84,9.5 L-89,9.5 Q-92,9.5 -93,7 L-97,7 Z" fill="#f2444a"/><path d="M-84,-6.5 Q-88,0 -84,6.5" fill="none" stroke="#d8cccc" stroke-width="2.2"/><path d="M-77,-6.5 Q-81,0 -77,6.5" fill="none" stroke="#d8cccc" stroke-width="2.2"/><path d="M-70,-6.5 Q-74,0 -70,6.5" fill="none" stroke="#d8cccc" stroke-width="2.2"/><rect x="-52" y="-4.6" width="46" height="9.2" rx="2.5" fill="#f2444a"/><text x="-48.5" y="2.9" font-family='"Liberation Sans", sans-serif' font-weight="bold" font-size="8" fill="#a0383c" textLength="25" lengthAdjust="spacingAndGlyphs">fischer</text><path d="M-22,-2 L-12,-2 L-12,2 L-22,2 Z M-19,-2 Q-17,0 -15,-2" fill="none" stroke="#a0383c" stroke-width="0.7"/><path d="M1,-3 Q4,-12 7.5,-11.8 Q11.5,0 7.5,11.8 Q4,12 1,3 Z" fill="#7a7a7c"/></g>
<g transform="translate(1217,594)"><path d="M-123.4,0 L-117,-10.5 L2.6,-10.5 L2.6,10.5 L-117,10.5 Z" fill="#ffffff"/><path d="M-117,0 L-103,-2.5 L-99,-6 L-97,-3 L-95,-6 L-93,-3 L-93,3 L-95,6 L-97,3 L-99,6 L-103,2.5 Z" fill="#707072"/><rect x="-55" y="-10" width="56" height="20" fill="#d5d5d6"/><g fill="#f2f2f2"><circle cx="-54.0" cy="-8.3" r="1.1"/><circle cx="-54.0" cy="8.3" r="1.1"/><circle cx="-48.5" cy="-8.3" r="1.1"/><circle cx="-48.5" cy="8.3" r="1.1"/><circle cx="-43.0" cy="-8.3" r="1.1"/><circle cx="-43.0" cy="8.3" r="1.1"/><circle cx="-37.5" cy="-8.3" r="1.1"/><circle cx="-37.5" cy="8.3" r="1.1"/><circle cx="-32.0" cy="-8.3" r="1.1"/><circle cx="-32.0" cy="8.3" r="1.1"/><circle cx="-26.5" cy="-8.3" r="1.1"/><circle cx="-26.5" cy="8.3" r="1.1"/><circle cx="-21.0" cy="-8.3" r="1.1"/><circle cx="-21.0" cy="8.3" r="1.1"/><circle cx="-15.5" cy="-8.3" r="1.1"/><circle cx="-15.5" cy="8.3" r="1.1"/><circle cx="-10.0" cy="-8.3" r="1.1"/><circle cx="-10.0" cy="8.3" r="1.1"/><circle cx="-4.5" cy="-8.3" r="1.1"/><circle cx="-4.5" cy="8.3" r="1.1"/></g><rect x="-1" y="-11" width="2.5" height="22" fill="#cfcfd0"/><path d="M-97,-7 L-93,-7 Q-92,-9.5 -89,-9.5 L-84,-9.5 Q-82.5,-7.5 -81,-9.5 L-76,-9.5 Q-74.5,-7.5 -73,-9.5 L-68,-9.5 Q-66.5,-7.5 -65,-9.5 L-57,-9.5 L-57,9.5 L-65,9.5 Q-66.5,7.5 -68,9.5 L-73,9.5 Q-74.5,7.5 -76,9.5 L-81,9.5 Q-82.5,7.5 -84,9.5 L-89,9.5 Q-92,9.5 -93,7 L-97,7 Z" fill="#f2444a"/><path d="M-84,-6.5 Q-88,0 -84,6.5" fill="none" stroke="#d8cccc" stroke-width="2.2"/><path d="M-77,-6.5 Q-81,0 -77,6.5" fill="none" stroke="#d8cccc" stroke-width="2.2"/><path d="M-70,-6.5 Q-74,0 -70,6.5" fill="none" stroke="#d8cccc" stroke-width="2.2"/><rect x="-52" y="-4.6" width="46" height="9.2" rx="2.5" fill="#f2444a"/><text x="-48.5" y="2.9" font-family='"Liberation Sans", sans-serif' font-weight="bold" font-size="8" fill="#a0383c" textLength="25" lengthAdjust="spacingAndGlyphs">fischer</text><path d="M-22,-2 L-12,-2 L-12,2 L-22,2 Z M-19,-2 Q-17,0 -15,-2" fill="none" stroke="#a0383c" stroke-width="0.7"/><path d="M1,-3 Q4,-12 7.5,-11.8 Q11.5,0 7.5,11.8 Q4,12 1,3 Z" fill="#7a7a7c"/></g>
<path d="M1351.2,753.3 L1351.2,109.7 A38,38 0 0 1 1389.2,71.7 L1531.0,71.7 A38,38 0 0 1 1569.0,109.7 L1569.0,753.3 Z" fill="#fff" stroke="#df1317" stroke-width="3.4"/>
<rect x="1349.5" y="153.5" width="221.2" height="138.5" fill="#dd1818"/>
<path d="M1427.3,87.4 L1433,86 L1436,84 L1442,83 L1482,141 L1476,143 L1468.4,146 Z" fill="#e3232b"/>
<path d="M1476,85.4 L1482,86 L1484,88 L1488.4,91.2 L1437,143.5 L1434.8,143.5 L1431,140 L1429.8,137.3 Z" fill="#e3232b"/>
<text x="1457.2" y="184.6" text-anchor="middle" font-family='"Liberation Sans", sans-serif' font-weight="bold" font-size="27" fill="#fff" textLength="127" lengthAdjust="spacingAndGlyphs">CAUTION!</text>
<text x="1459.7" y="207" text-anchor="middle" font-family='"Liberation Sans", sans-serif' font-weight="bold" font-size="12.5" fill="#fff" textLength="184.6" lengthAdjust="spacingAndGlyphs">The screw outstanding more than</text>
<text x="1459" y="221" text-anchor="middle" font-family='"Liberation Sans", sans-serif' font-weight="bold" font-size="12.5" fill="#fff" textLength="156" lengthAdjust="spacingAndGlyphs">5 mm / 0,02” from the wall</text>
<text x="1459" y="235" text-anchor="middle" font-family='"Liberation Sans", sans-serif' font-weight="bold" font-size="12.5" fill="#fff" textLength="131" lengthAdjust="spacingAndGlyphs">may damage the board.</text>
<text x="1459.7" y="248.8" text-anchor="middle" font-family='"Liberation Sans", sans-serif' font-weight="bold" font-size="12.5" fill="#fff" textLength="184.6" lengthAdjust="spacingAndGlyphs">IT MAY SCRATCH THE LAMINATE</text>
<text x="1459.6" y="262.8" text-anchor="middle" font-family='"Liberation Sans", sans-serif' font-weight="bold" font-size="12.5" fill="#fff" textLength="104.7" lengthAdjust="spacingAndGlyphs">SURFACE OR EVEN</text>
<text x="1459.7" y="276.8" text-anchor="middle" font-family='"Liberation Sans", sans-serif' font-weight="bold" font-size="12.5" fill="#fff" textLength="102" lengthAdjust="spacingAndGlyphs">BREAK THE GLASS</text>
<text x="1521.5" y="315.3" text-anchor="middle" font-family='"Liberation Sans", sans-serif' font-weight="normal" font-size="13.5" fill="#d81818" textLength="81" lengthAdjust="spacingAndGlyphs">+5mm/0,02”</text>
<path d="M1510,329 Q1510.5,321 1522,321 Q1527,321 1528,317 Q1529,321 1534,321 Q1546,321 1546.5,329" fill="none" stroke="#e01818" stroke-width="1.8"/>
<line x1="1513.8" y1="330" x2="1513.8" y2="350" stroke="#e01818" stroke-width="1.6"/>
<line x1="1543" y1="330" x2="1543" y2="382" stroke="#e01818" stroke-width="1.6"/>
<rect x="1370.4" y="352.7" width="142.9" height="88.1" fill="#6d2017"/>
<rect x="1370.4" y="457" width="142.9" height="274.4" fill="#6d2017"/>
<rect x="1532" y="455.5" width="15" height="101.2" fill="#fd7b34"/>
<rect x="1532" y="630" width="15" height="101.4" fill="#fd7b34"/>
<path d="M1531.3,472.4 L1531.3,528.5 L1513.8,548.5 L1513.8,637.4 L1531.3,658.6 L1531.3,714.7" fill="none" stroke="#7b7b7d" stroke-width="1.4"/>
<g transform="translate(1513.3,397)"><path d="M-123.4,0 L-117,-10.5 L2.6,-10.5 L2.6,10.5 L-117,10.5 Z" fill="#ffffff"/><path d="M-117,0 L-103,-2.5 L-99,-6 L-97,-3 L-95,-6 L-93,-3 L-93,3 L-95,6 L-97,3 L-99,6 L-103,2.5 Z" fill="#707072"/><rect x="-55" y="-10" width="56" height="20" fill="#d5d5d6"/><g fill="#f2f2f2"><circle cx="-54.0" cy="-8.3" r="1.1"/><circle cx="-54.0" cy="8.3" r="1.1"/><circle cx="-48.5" cy="-8.3" r="1.1"/><circle cx="-48.5" cy="8.3" r="1.1"/><circle cx="-43.0" cy="-8.3" r="1.1"/><circle cx="-43.0" cy="8.3" r="1.1"/><circle cx="-37.5" cy="-8.3" r="1.1"/><circle cx="-37.5" cy="8.3" r="1.1"/><circle cx="-32.0" cy="-8.3" r="1.1"/><circle cx="-32.0" cy="8.3" r="1.1"/><circle cx="-26.5" cy="-8.3" r="1.1"/><circle cx="-26.5" cy="8.3" r="1.1"/><circle cx="-21.0" cy="-8.3" r="1.1"/><circle cx="-21.0" cy="8.3" r="1.1"/><circle cx="-15.5" cy="-8.3" r="1.1"/><circle cx="-15.5" cy="8.3" r="1.1"/><circle cx="-10.0" cy="-8.3" r="1.1"/><circle cx="-10.0" cy="8.3" r="1.1"/><circle cx="-4.5" cy="-8.3" r="1.1"/><circle cx="-4.5" cy="8.3" r="1.1"/></g><rect x="-1" y="-11" width="2.5" height="22" fill="#cfcfd0"/><path d="M-97,-7 L-93,-7 Q-92,-9.5 -89,-9.5 L-84,-9.5 Q-82.5,-7.5 -81,-9.5 L-76,-9.5 Q-74.5,-7.5 -73,-9.5 L-68,-9.5 Q-66.5,-7.5 -65,-9.5 L-57,-9.5 L-57,9.5 L-65,9.5 Q-66.5,7.5 -68,9.5 L-73,9.5 Q-74.5,7.5 -76,9.5 L-81,9.5 Q-82.5,7.5 -84,9.5 L-89,9.5 Q-92,9.5 -93,7 L-97,7 Z" fill="#f2444a"/><path d="M-84,-6.5 Q-88,0 -84,6.5" fill="none" stroke="#d8cccc" stroke-width="2.2"/><path d="M-77,-6.5 Q-81,0 -77,6.5" fill="none" stroke="#d8cccc" stroke-width="2.2"/><path d="M-70,-6.5 Q-74,0 -70,6.5" fill="none" stroke="#d8cccc" stroke-width="2.2"/><rect x="-52" y="-4.6" width="46" height="9.2" rx="2.5" fill="#f2444a"/><text x="-48.5" y="2.9" font-family='"Liberation Sans", sans-serif' font-weight="bold" font-size="8" fill="#a0383c" textLength="25" lengthAdjust="spacingAndGlyphs">fischer</text><path d="M-22,-2 L-12,-2 L-12,2 L-22,2 Z M-19,-2 Q-17,0 -15,-2" fill="none" stroke="#a0383c" stroke-width="0.7"/><rect x="1" y="-4.5" width="16" height="9" fill="#7a7a7c"/><path d="M4.0,-6 Q7.0,0 4.0,6" fill="none" stroke="#555557" stroke-width="1.8"/><path d="M8.5,-6 Q11.5,0 8.5,6" fill="none" stroke="#555557" stroke-width="1.8"/><path d="M14,-4.5 Q21,-8 24.5,-11.4 Q28,-6 28,0 Q28,6 24.5,11.4 Q21,8 14,4.5 Z" fill="#7a7a7c"/></g>
<g transform="translate(1513.3,594)"><path d="M-123.4,0 L-117,-10.5 L2.6,-10.5 L2.6,10.5 L-117,10.5 Z" fill="#ffffff"/><path d="M-117,0 L-103,-2.5 L-99,-6 L-97,-3 L-95,-6 L-93,-3 L-93,3 L-95,6 L-97,3 L-99,6 L-103,2.5 Z" fill="#707072"/><rect x="-55" y="-10" width="56" height="20" fill="#d5d5d6"/><g fill="#f2f2f2"><circle cx="-54.0" cy="-8.3" r="1.1"/><circle cx="-54.0" cy="8.3" r="1.1"/><circle cx="-48.5" cy="-8.3" r="1.1"/><circle cx="-48.5" cy="8.3" r="1.1"/><circle cx="-43.0" cy="-8.3" r="1.1"/><circle cx="-43.0" cy="8.3" r="1.1"/><circle cx="-37.5" cy="-8.3" r="1.1"/><circle cx="-37.5" cy="8.3" r="1.1"/><circle cx="-32.0" cy="-8.3" r="1.1"/><circle cx="-32.0" cy="8.3" r="1.1"/><circle cx="-26.5" cy="-8.3" r="1.1"/><circle cx="-26.5" cy="8.3" r="1.1"/><circle cx="-21.0" cy="-8.3" r="1.1"/><circle cx="-21.0" cy="8.3" r="1.1"/><circle cx="-15.5" cy="-8.3" r="1.1"/><circle cx="-15.5" cy="8.3" r="1.1"/><circle cx="-10.0" cy="-8.3" r="1.1"/><circle cx="-10.0" cy="8.3" r="1.1"/><circle cx="-4.5" cy="-8.3" r="1.1"/><circle cx="-4.5" cy="8.3" r="1.1"/></g><rect x="-1" y="-11" width="2.5" height="22" fill="#cfcfd0"/><path d="M-97,-7 L-93,-7 Q-92,-9.5 -89,-9.5 L-84,-9.5 Q-82.5,-7.5 -81,-9.5 L-76,-9.5 Q-74.5,-7.5 -73,-9.5 L-68,-9.5 Q-66.5,-7.5 -65,-9.5 L-57,-9.5 L-57,9.5 L-65,9.5 Q-66.5,7.5 -68,9.5 L-73,9.5 Q-74.5,7.5 -76,9.5 L-81,9.5 Q-82.5,7.5 -84,9.5 L-89,9.5 Q-92,9.5 -93,7 L-97,7 Z" fill="#f2444a"/><path d="M-84,-6.5 Q-88,0 -84,6.5" fill="none" stroke="#d8cccc" stroke-width="2.2"/><path d="M-77,-6.5 Q-81,0 -77,6.5" fill="none" stroke="#d8cccc" stroke-width="2.2"/><path d="M-70,-6.5 Q-74,0 -70,6.5" fill="none" stroke="#d8cccc" stroke-width="2.2"/><rect x="-52" y="-4.6" width="46" height="9.2" rx="2.5" fill="#f2444a"/><text x="-48.5" y="2.9" font-family='"Liberation Sans", sans-serif' font-weight="bold" font-size="8" fill="#a0383c" textLength="25" lengthAdjust="spacingAndGlyphs">fischer</text><path d="M-22,-2 L-12,-2 L-12,2 L-22,2 Z M-19,-2 Q-17,0 -15,-2" fill="none" stroke="#a0383c" stroke-width="0.7"/><rect x="1" y="-4.5" width="16" height="9" fill="#7a7a7c"/><path d="M4.0,-6 Q7.0,0 4.0,6" fill="none" stroke="#555557" stroke-width="1.8"/><path d="M8.5,-6 Q11.5,0 8.5,6" fill="none" stroke="#555557" stroke-width="1.8"/><path d="M14,-4.5 Q21,-8 24.5,-11.4 Q28,-6 28,0 Q28,6 24.5,11.4 Q21,8 14,4.5 Z" fill="#7a7a7c"/></g>
<path d="M1528.7,565.7 L1533.3,560.5 L1544.8,564.5 L1552.9,572.6 L1537.9,576.6 Z" fill="#fd7b34" stroke="#fd7b34" stroke-width="1.2" stroke-linejoin="round"/>
<path d="M1540.8,580 L1556.3,577.2 L1563.8,588.1 L1546,588.1 Z" fill="#fd7b34" stroke="#fd7b34" stroke-width="1.2" stroke-linejoin="round"/>
<path d="M1546.6,592.1 L1564.4,592.1 L1563.2,605.9 L1547.7,602.5 Z" fill="#fd7b34" stroke="#fd7b34" stroke-width="1.2" stroke-linejoin="round"/>
<path d="M1539.7,611.7 L1546,604.8 L1559.8,610.5 L1556.3,616.8 L1544.8,615.1 Z" fill="#fd7b34" stroke="#fd7b34" stroke-width="1.2" stroke-linejoin="round"/>
<path d="M1531.6,621.4 L1535.6,615.1 L1551.7,620.9 L1544.8,627.2 L1536.8,625.5 Z" fill="#fd7b34" stroke="#fd7b34" stroke-width="1.2" stroke-linejoin="round"/>
<clipPath id="cc0"><circle cx="1730.3" cy="152.6" r="78"/></clipPath>
<g clip-path="url(#cc0)">
<rect x="1650.3" y="72.6" width="160" height="160" fill="#fff"/>
<rect x="1650.3" y="72.6" width="80.7" height="160" fill="#6f4450"/>
<rect x="1650.3" y="121.6" width="87.0" height="61" fill="#d7d7d7"/>
<rect x="1731.3" y="115.1" width="6" height="74.5" fill="#d7d7d7"/>
<path d="M1650.3,121.6 L1678.3,121.6 L1684.3,126.6 L1650.3,126.6 Z" fill="#fff"/>
<path d="M1650.3,182.6 L1678.3,182.6 L1684.3,177.6 L1650.3,177.6 Z" fill="#fff"/>
<path d="M1650.3,143.6 L1704,143.6 Q1708,143.6 1707,148.6 Q1706,152.6 1707,156.6 Q1708,161.6 1704,161.6 L1650.3,161.6 Z" fill="#f77674"/>
<text x="1667.5" y="158.4" text-anchor="end" font-family='"Liberation Sans", sans-serif' font-weight="bold" font-size="16" fill="#c35b5d">er</text>
<path d="M1672,150.1 L1693,150.1 L1693,156.1 L1672,156.1 Z M1676,150.1 Q1682.5,154.1 1689,150.1 M1676,156.1 Q1682.5,152.1 1689,156.1" fill="none" stroke="#c35b5d" stroke-width="1.2"/>
</g>
<circle cx="1730.3" cy="152.6" r="78" fill="none" stroke="#63d465" stroke-width="4"/>
<clipPath id="cc1"><circle cx="1730.3" cy="326" r="78"/></clipPath>
<g clip-path="url(#cc1)">
<rect x="1650.3" y="246" width="160" height="160" fill="#fff"/>
<rect x="1650.3" y="246" width="80.7" height="160" fill="#6f4450"/>
<rect x="1650.3" y="295" width="104.40000000000009" height="61" fill="#d7d7d7"/>
<rect x="1748.7" y="288.5" width="6" height="74.5" fill="#d7d7d7"/>
<path d="M1650.3,295 L1678.3,295 L1684.3,300 L1650.3,300 Z" fill="#fff"/>
<path d="M1650.3,356 L1678.3,356 L1684.3,351 L1650.3,351 Z" fill="#fff"/>
<path d="M1650.3,317 L1721.8,317 Q1725.8,317 1724.8,322 Q1723.8,326 1724.8,330 Q1725.8,335 1721.8,335 L1650.3,335 Z" fill="#f77674"/>
<text x="1685.3" y="331.8" text-anchor="end" font-family='"Liberation Sans", sans-serif' font-weight="bold" font-size="16" fill="#c35b5d">cher</text>
<path d="M1689.8,323.5 L1710.8,323.5 L1710.8,329.5 L1689.8,329.5 Z M1693.8,323.5 Q1700.3,327.5 1706.8,323.5 M1693.8,329.5 Q1700.3,325.5 1706.8,329.5" fill="none" stroke="#c35b5d" stroke-width="1.2"/>
</g>
<circle cx="1730.3" cy="326" r="78" fill="none" stroke="#e8525c" stroke-width="4"/>
<clipPath id="cc2"><circle cx="1730.3" cy="500" r="78"/></clipPath>
<g clip-path="url(#cc2)">
<rect x="1650.3" y="420" width="160" height="160" fill="#fff"/>
<rect x="1650.3" y="420" width="80.7" height="160" fill="#6f4450"/>
<rect x="1650.3" y="469" width="87.0" height="61" fill="#d7d7d7"/>
<rect x="1731.3" y="462.5" width="6" height="74.5" fill="#d7d7d7"/>
<path d="M1650.3,469 L1678.3,469 L1684.3,474 L1650.3,474 Z" fill="#fff"/>
<path d="M1650.3,530 L1678.3,530 L1684.3,525 L1650.3,525 Z" fill="#fff"/>
<path d="M1650.3,491 L1704,491 Q1708,491 1707,496 Q1706,500 1707,504 Q1708,509 1704,509 L1650.3,509 Z" fill="#f77674"/>
<text x="1667.5" y="505.8" text-anchor="end" font-family='"Liberation Sans", sans-serif' font-weight="bold" font-size="16" fill="#c35b5d">er</text>
<path d="M1672,497.5 L1693,497.5 L1693,503.5 L1672,503.5 Z M1676,497.5 Q1682.5,501.5 1689,497.5 M1676,503.5 Q1682.5,499.5 1689,503.5" fill="none" stroke="#c35b5d" stroke-width="1.2"/>
<path d="M1737.5,478.6 Q1744,468 1751,465.4 Q1756,464 1759,472 Q1763,485 1762.7,499 Q1763,515 1759,527 Q1756,535 1751,533.4 Q1744,530 1737.5,519.7 Z" fill="#9d9d9d"/>
</g>
<circle cx="1730.3" cy="500" r="78" fill="none" stroke="#63d465" stroke-width="4"/>
<clipPath id="cc3"><circle cx="1739.3" cy="673" r="78"/></clipPath>
<g clip-path="url(#cc3)">
<rect x="1659.3" y="593" width="160" height="160" fill="#fff"/>
<rect x="1659.3" y="593" width="80.7" height="160" fill="#6f4450"/>
<rect x="1659.3" y="642" width="86.70000000000005" height="61" fill="#d7d7d7"/>
<rect x="1740" y="635.5" width="6" height="74.5" fill="#d7d7d7"/>
<path d="M1659.3,642 L1687.3,642 L1693.3,647 L1659.3,647 Z" fill="#fff"/>
<path d="M1659.3,703 L1687.3,703 L1693.3,698 L1659.3,698 Z" fill="#fff"/>
<path d="M1659.3,664 L1713,664 Q1717,664 1716,669 Q1715,673 1716,677 Q1717,682 1713,682 L1659.3,682 Z" fill="#f77674"/>
<text x="1676.5" y="678.8" text-anchor="end" font-family='"Liberation Sans", sans-serif' font-weight="bold" font-size="16" fill="#c35b5d">er</text>
<path d="M1681,670.5 L1702,670.5 L1702,676.5 L1681,676.5 Z M1685,670.5 Q1691.5,674.5 1698,670.5 M1685,676.5 Q1691.5,672.5 1698,676.5" fill="none" stroke="#c35b5d" stroke-width="1.2"/>
<path d="M1746,660 Q1750,655 1755,657 L1764,663 Q1779,651 1789,641 Q1800,636 1800,673 Q1800,710 1789,706 Q1779,696 1764,684 L1755,689 Q1750,692 1746,686 Z" fill="#9d9d9d"/><path d="M1751,658 Q1760,672 1757,690" fill="none" stroke="#7a7a7a" stroke-width="3.5"/>
</g>
<circle cx="1739.3" cy="673" r="78" fill="none" stroke="#e8525c" stroke-width="4"/>
<path d="M1828.3,138.6 L1832.0,132.3 L1839.0,132.5 L1842.0,134.0 L1846.0,133.5 L1852.0,137.3 L1865.7,172.2 L1929.3,102.4 L1933.0,101.0 L1937.0,103.0 L1940.0,103.5 L1950.5,107.4 L1949.0,111.0 L1873.2,202.1 L1869.4,203.4 L1865.0,200.0 L1858.0,197.0 L1844.5,189.7 L1829.5,142.3 Z" fill="#63d465"/>
<path d="M1844.5,289.4 L1851.5,286.4 L1856.5,284.4 L1862.5,283.4 L1918.5,355.4 L1914.5,363.4 L1906.5,367.4 L1904.5,370.7 L1896.5,368.4 Z" fill="#e9535d"/>
<path d="M1904.5,292.4 L1912.5,290.4 L1920.5,287.4 L1924.5,288.4 L1928.0,293.4 L1922.5,299.4 L1860.5,368.4 L1854.5,367.4 L1847.5,365.4 L1845.5,358.4 Z" fill="#e9535d"/>
<path d="M1828.3,486.2 L1832.0,479.9 L1839.0,480.1 L1842.0,481.6 L1846.0,481.1 L1852.0,484.9 L1865.7,519.8 L1929.3,450.0 L1933.0,448.6 L1937.0,450.6 L1940.0,451.1 L1950.5,455.0 L1949.0,458.6 L1873.2,549.7 L1869.4,551.0 L1865.0,547.6 L1858.0,544.6 L1844.5,537.3 L1829.5,489.9 Z" fill="#63d465"/>
<path d="M1844.5,634.6 L1851.5,631.6 L1856.5,629.6 L1862.5,628.6 L1918.5,700.6 L1914.5,708.6 L1906.5,712.6 L1904.5,715.9 L1896.5,713.6 Z" fill="#e9535d"/>
<path d="M1904.5,637.6 L1912.5,635.6 L1920.5,632.6 L1924.5,633.6 L1928.0,638.6 L1922.5,644.6 L1860.5,713.6 L1854.5,712.6 L1847.5,710.6 L1845.5,703.6 Z" fill="#e9535d"/>
</svg></body></html>
